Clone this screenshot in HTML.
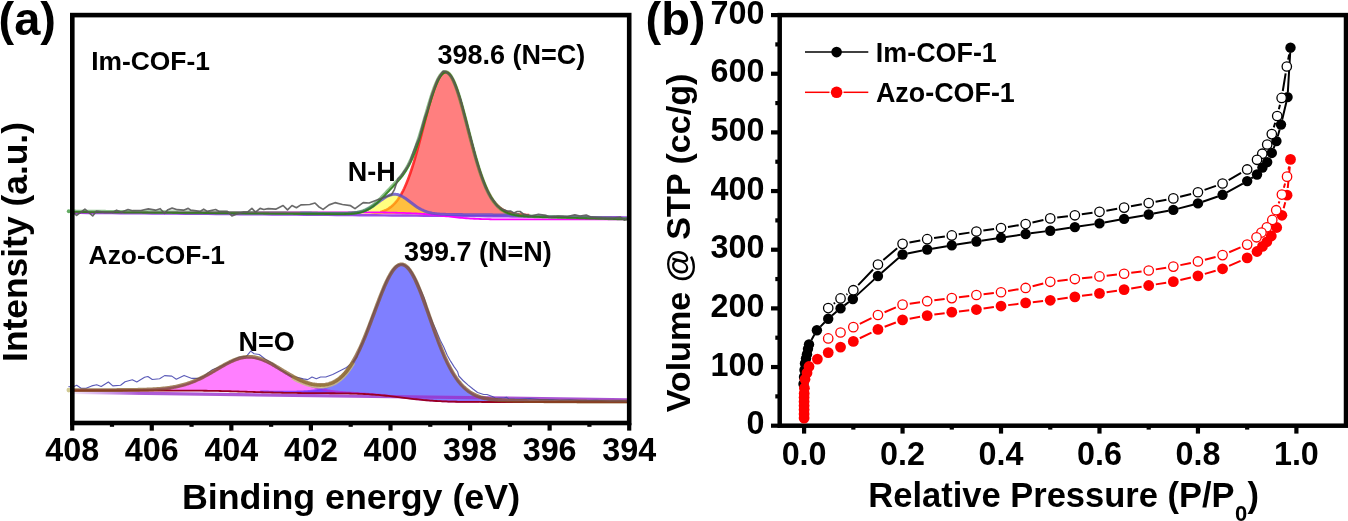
<!DOCTYPE html><html><head><meta charset="utf-8"><style>html,body{margin:0;padding:0;background:#fff;overflow:hidden}svg{display:block;will-change:transform}</style></head><body>
<svg width="1348" height="521" viewBox="0 0 1348 521">
<rect width="1348" height="521" fill="#fff"/>
<polygon points="350.2,213.68 351.2,213.69 352.2,213.69 353.2,213.69 354.2,213.7 355.2,213.7 356.2,213.7 357.2,213.7 358.2,213.69 359.2,213.69 360.2,213.68 361.2,213.67 362.2,213.66 363.2,213.65 364.2,213.63 365.2,213.6 366.2,213.57 367.2,213.54 368.2,213.49 369.2,213.44 370.2,213.38 371.2,213.32 372.2,213.24 373.2,213.14 374.2,213.04 375.2,212.91 376.2,212.77 377.2,212.61 378.2,212.43 379.2,212.22 380.2,211.99 381.2,211.72 382.2,211.42 383.2,211.09 384.2,210.72 385.2,210.3 386.2,209.84 387.2,209.33 388.2,208.76 389.2,208.13 390.2,207.44 391.2,206.68 392.2,205.85 393.2,204.94 394.2,203.95 395.2,202.87 396.2,201.7 397.2,200.43 398.2,199.07 399.2,197.59 400.2,196.01 401.2,194.31 402.2,192.49 403.2,190.56 404.2,188.5 405.2,186.31 406.2,184 407.2,181.56 408.2,179 409.2,176.3 410.2,173.48 411.2,170.54 412.2,167.48 413.2,164.3 414.2,161.01 415.2,157.62 416.2,154.13 417.2,150.56 418.2,146.9 419.2,143.18 420.2,139.4 421.2,135.58 422.2,131.73 423.2,127.87 424.2,124 425.2,120.15 426.2,116.34 427.2,112.57 428.2,108.87 429.2,105.25 430.2,101.74 431.2,98.35 432.2,95.09 433.2,91.99 434.2,89.06 435.2,86.32 436.2,83.77 437.2,81.45 438.2,79.36 439.2,77.51 440.2,75.91 441.2,74.57 442.2,73.51 443.2,72.72 444.2,72.21 445.2,71.99 446.2,72.06 447.2,72.41 448.2,73.05 449.2,73.96 450.2,75.15 451.2,76.61 452.2,78.33 453.2,80.29 454.2,82.5 455.2,84.93 456.2,87.57 457.2,90.4 458.2,93.42 459.2,96.6 460.2,99.93 461.2,103.39 462.2,106.97 463.2,110.63 464.2,114.38 465.2,118.18 466.2,122.03 467.2,125.91 468.2,129.79 469.2,133.67 470.2,137.52 471.2,141.34 472.2,145.12 473.2,148.83 474.2,152.47 475.2,156.03 476.2,159.49 477.2,162.86 478.2,166.12 479.2,169.27 480.2,172.3 481.2,175.21 482.2,178 483.2,180.66 484.2,183.19 485.2,185.6 486.2,187.87 487.2,190.02 488.2,192.05 489.2,193.95 490.2,195.74 491.2,197.41 492.2,198.96 493.2,200.41 494.2,201.76 495.2,203 496.2,204.15 497.2,205.21 498.2,206.19 499.2,207.08 500.2,207.9 501.2,208.65 502.2,209.33 503.2,209.95 504.2,210.51 505.2,211.02 506.2,211.48 507.2,211.89 508.2,212.26 509.2,212.6 510.2,212.9 511.2,213.17 512.2,213.41 513.2,213.62 514.2,213.81 515.2,213.98 516.2,214.13 517.2,214.26 518.2,214.38 519.2,214.49 520.2,214.58 521.2,214.66 522.2,214.73 523.2,214.8 524.2,214.85 525.2,214.9 526.2,214.95 527.2,214.98 528.2,215.02 529.2,215.05 530.2,215.08 531.2,215.1 532.2,215.12 533.2,215.14 534.2,215.16 535.2,215.18 536.2,215.2 537.2,215.21 538.2,215.22 539.2,215.24 540.2,215.25 541.2,215.26 542.2,215.27 543.2,215.28 544.2,215.29 544.2,215.3 543.2,215.29 542.2,215.28 541.2,215.27 540.2,215.26 539.2,215.26 538.2,215.25 537.2,215.24 536.2,215.23 535.2,215.22 534.2,215.22 533.2,215.21 532.2,215.2 531.2,215.19 530.2,215.18 529.2,215.17 528.2,215.17 527.2,215.16 526.2,215.15 525.2,215.14 524.2,215.13 523.2,215.12 522.2,215.12 521.2,215.11 520.2,215.1 519.2,215.09 518.2,215.08 517.2,215.08 516.2,215.07 515.2,215.06 514.2,215.05 513.2,215.04 512.2,215.03 511.2,215.03 510.2,215.02 509.2,215.01 508.2,215 507.2,214.99 506.2,214.98 505.2,214.98 504.2,214.97 503.2,214.96 502.2,214.95 501.2,214.94 500.2,214.93 499.2,214.93 498.2,214.92 497.2,214.91 496.2,214.9 495.2,214.89 494.2,214.89 493.2,214.88 492.2,214.87 491.2,214.86 490.2,214.85 489.2,214.84 488.2,214.84 487.2,214.83 486.2,214.82 485.2,214.81 484.2,214.8 483.2,214.79 482.2,214.79 481.2,214.78 480.2,214.77 479.2,214.76 478.2,214.75 477.2,214.74 476.2,214.74 475.2,214.73 474.2,214.72 473.2,214.71 472.2,214.7 471.2,214.7 470.2,214.69 469.2,214.68 468.2,214.67 467.2,214.66 466.2,214.65 465.2,214.65 464.2,214.64 463.2,214.63 462.2,214.62 461.2,214.61 460.2,214.6 459.2,214.6 458.2,214.59 457.2,214.58 456.2,214.57 455.2,214.56 454.2,214.55 453.2,214.55 452.2,214.54 451.2,214.53 450.2,214.52 449.2,214.51 448.2,214.51 447.2,214.5 446.2,214.49 445.2,214.48 444.2,214.47 443.2,214.46 442.2,214.46 441.2,214.45 440.2,214.44 439.2,214.43 438.2,214.42 437.2,214.41 436.2,214.41 435.2,214.4 434.2,214.39 433.2,214.38 432.2,214.37 431.2,214.36 430.2,214.36 429.2,214.35 428.2,214.34 427.2,214.33 426.2,214.32 425.2,214.32 424.2,214.31 423.2,214.3 422.2,214.29 421.2,214.28 420.2,214.27 419.2,214.27 418.2,214.26 417.2,214.25 416.2,214.24 415.2,214.23 414.2,214.22 413.2,214.22 412.2,214.21 411.2,214.2 410.2,214.19 409.2,214.18 408.2,214.17 407.2,214.17 406.2,214.16 405.2,214.15 404.2,214.14 403.2,214.13 402.2,214.13 401.2,214.12 400.2,214.11 399.2,214.1 398.2,214.09 397.2,214.08 396.2,214.08 395.2,214.07 394.2,214.06 393.2,214.05 392.2,214.04 391.2,214.03 390.2,214.03 389.2,214.02 388.2,214.01 387.2,214 386.2,213.99 385.2,213.98 384.2,213.98 383.2,213.97 382.2,213.96 381.2,213.95 380.2,213.94 379.2,213.94 378.2,213.93 377.2,213.92 376.2,213.91 375.2,213.9 374.2,213.89 373.2,213.89 372.2,213.88 371.2,213.87 370.2,213.86 369.2,213.85 368.2,213.84 367.2,213.84 366.2,213.83 365.2,213.82 364.2,213.81 363.2,213.8 362.2,213.79 361.2,213.79 360.2,213.78 359.2,213.77 358.2,213.76 357.2,213.75 356.2,213.75 355.2,213.74 354.2,213.73 353.2,213.72 352.2,213.71 351.2,213.7 350.2,213.7" fill="#ff0000" fill-opacity="0.5"/>
<polyline points="380.2,211.99 381.2,211.72 382.2,211.42 383.2,211.09 384.2,210.72 385.2,210.3 386.2,209.84 387.2,209.33 388.2,208.76 389.2,208.13 390.2,207.44 391.2,206.68 392.2,205.85 393.2,204.94 394.2,203.95 395.2,202.87 396.2,201.7 397.2,200.43 398.2,199.07 399.2,197.59 400.2,196.01 401.2,194.31 402.2,192.49 403.2,190.56 404.2,188.5 405.2,186.31 406.2,184 407.2,181.56 408.2,179 409.2,176.3 410.2,173.48 411.2,170.54 412.2,167.48 413.2,164.3 414.2,161.01 415.2,157.62 416.2,154.13 417.2,150.56 418.2,146.9 419.2,143.18 420.2,139.4 421.2,135.58 422.2,131.73 423.2,127.87 424.2,124 425.2,120.15 426.2,116.34 427.2,112.57 428.2,108.87 429.2,105.25 430.2,101.74 431.2,98.35 432.2,95.09 433.2,91.99 434.2,89.06 435.2,86.32 436.2,83.77 437.2,81.45 438.2,79.36 439.2,77.51 440.2,75.91 441.2,74.57 442.2,73.51 443.2,72.72 444.2,72.21 445.2,71.99 446.2,72.06 447.2,72.41 448.2,73.05 449.2,73.96 450.2,75.15 451.2,76.61 452.2,78.33 453.2,80.29 454.2,82.5 455.2,84.93 456.2,87.57 457.2,90.4 458.2,93.42 459.2,96.6 460.2,99.93 461.2,103.39 462.2,106.97 463.2,110.63 464.2,114.38 465.2,118.18 466.2,122.03 467.2,125.91 468.2,129.79 469.2,133.67 470.2,137.52 471.2,141.34 472.2,145.12 473.2,148.83 474.2,152.47 475.2,156.03 476.2,159.49 477.2,162.86 478.2,166.12 479.2,169.27 480.2,172.3 481.2,175.21 482.2,178 483.2,180.66 484.2,183.19 485.2,185.6 486.2,187.87 487.2,190.02 488.2,192.05 489.2,193.95 490.2,195.74 491.2,197.41 492.2,198.96 493.2,200.41 494.2,201.76 495.2,203 496.2,204.15 497.2,205.21 498.2,206.19 499.2,207.08 500.2,207.9 501.2,208.65 502.2,209.33 503.2,209.95 504.2,210.51 505.2,211.02 506.2,211.48 507.2,211.89 508.2,212.26 509.2,212.6 510.2,212.9 511.2,213.17 512.2,213.41 513.2,213.62 514.2,213.81 515.2,213.98 516.2,214.13 517.2,214.26 518.2,214.38 519.2,214.49 520.2,214.58 521.2,214.66 522.2,214.73 523.2,214.8 524.2,214.85 525.2,214.9 526.2,214.95 527.2,214.98 528.2,215.02 529.2,215.05" fill="none" stroke="#ff1a1a" stroke-width="2.6" stroke-opacity="0.85" stroke-linejoin="round"/>
<polygon points="320.2,213.45 321.2,213.46 322.2,213.46 323.2,213.47 324.2,213.48 325.2,213.49 326.2,213.5 327.2,213.5 328.2,213.51 329.2,213.52 330.2,213.53 331.2,213.53 332.2,213.54 333.2,213.55 334.2,213.55 335.2,213.56 336.2,213.56 337.2,213.56 338.2,213.56 339.2,213.56 340.2,213.56 341.2,213.56 342.2,213.55 343.2,213.54 344.2,213.52 345.2,213.51 346.2,213.48 347.2,213.45 348.2,213.41 349.2,213.37 350.2,213.31 351.2,213.25 352.2,213.17 353.2,213.08 354.2,212.98 355.2,212.85 356.2,212.71 357.2,212.55 358.2,212.37 359.2,212.16 360.2,211.93 361.2,211.67 362.2,211.38 363.2,211.06 364.2,210.7 365.2,210.31 366.2,209.89 367.2,209.43 368.2,208.94 369.2,208.41 370.2,207.85 371.2,207.26 372.2,206.63 373.2,205.97 374.2,205.29 375.2,204.59 376.2,203.86 377.2,203.12 378.2,202.37 379.2,201.62 380.2,200.87 381.2,200.13 382.2,199.41 383.2,198.71 384.2,198.03 385.2,197.4 386.2,196.8 387.2,196.26 388.2,195.77 389.2,195.34 390.2,194.98 391.2,194.69 392.2,194.47 393.2,194.33 394.2,194.27 395.2,194.28 396.2,194.38 397.2,194.55 398.2,194.8 399.2,195.12 400.2,195.51 401.2,195.97 402.2,196.49 403.2,197.06 404.2,197.68 405.2,198.34 406.2,199.04 407.2,199.76 408.2,200.5 409.2,201.26 410.2,202.03 411.2,202.8 412.2,203.56 413.2,204.31 414.2,205.05 415.2,205.77 416.2,206.46 417.2,207.13 418.2,207.77 419.2,208.37 420.2,208.95 421.2,209.48 422.2,209.98 423.2,210.45 424.2,210.88 425.2,211.28 426.2,211.64 427.2,211.98 428.2,212.28 429.2,212.55 430.2,212.79 431.2,213.01 432.2,213.21 433.2,213.38 434.2,213.53 435.2,213.67 436.2,213.79 437.2,213.89 438.2,213.98 439.2,214.06 440.2,214.13 441.2,214.19 442.2,214.24 443.2,214.29 444.2,214.33 445.2,214.36 446.2,214.39 447.2,214.42 448.2,214.44 449.2,214.46 450.2,214.48 451.2,214.5 452.2,214.51 453.2,214.53 454.2,214.54 455.2,214.55 456.2,214.56 457.2,214.57 458.2,214.58 459.2,214.59 460.2,214.6 461.2,214.61 462.2,214.62 463.2,214.63 464.2,214.64 465.2,214.64 466.2,214.65 467.2,214.66 468.2,214.67 469.2,214.68 470.2,214.69 471.2,214.69 472.2,214.7 473.2,214.71 474.2,214.72 475.2,214.73 476.2,214.74 477.2,214.74 478.2,214.75 479.2,214.76 479.2,214.76 478.2,214.75 477.2,214.74 476.2,214.74 475.2,214.73 474.2,214.72 473.2,214.71 472.2,214.7 471.2,214.7 470.2,214.69 469.2,214.68 468.2,214.67 467.2,214.66 466.2,214.65 465.2,214.65 464.2,214.64 463.2,214.63 462.2,214.62 461.2,214.61 460.2,214.6 459.2,214.6 458.2,214.59 457.2,214.58 456.2,214.57 455.2,214.56 454.2,214.55 453.2,214.55 452.2,214.54 451.2,214.53 450.2,214.52 449.2,214.51 448.2,214.51 447.2,214.5 446.2,214.49 445.2,214.48 444.2,214.47 443.2,214.46 442.2,214.46 441.2,214.45 440.2,214.44 439.2,214.43 438.2,214.42 437.2,214.41 436.2,214.41 435.2,214.4 434.2,214.39 433.2,214.38 432.2,214.37 431.2,214.36 430.2,214.36 429.2,214.35 428.2,214.34 427.2,214.33 426.2,214.32 425.2,214.32 424.2,214.31 423.2,214.3 422.2,214.29 421.2,214.28 420.2,214.27 419.2,214.27 418.2,214.26 417.2,214.25 416.2,214.24 415.2,214.23 414.2,214.22 413.2,214.22 412.2,214.21 411.2,214.2 410.2,214.19 409.2,214.18 408.2,214.17 407.2,214.17 406.2,214.16 405.2,214.15 404.2,214.14 403.2,214.13 402.2,214.13 401.2,214.12 400.2,214.11 399.2,214.1 398.2,214.09 397.2,214.08 396.2,214.08 395.2,214.07 394.2,214.06 393.2,214.05 392.2,214.04 391.2,214.03 390.2,214.03 389.2,214.02 388.2,214.01 387.2,214 386.2,213.99 385.2,213.98 384.2,213.98 383.2,213.97 382.2,213.96 381.2,213.95 380.2,213.94 379.2,213.94 378.2,213.93 377.2,213.92 376.2,213.91 375.2,213.9 374.2,213.89 373.2,213.89 372.2,213.88 371.2,213.87 370.2,213.86 369.2,213.85 368.2,213.84 367.2,213.84 366.2,213.83 365.2,213.82 364.2,213.81 363.2,213.8 362.2,213.79 361.2,213.79 360.2,213.78 359.2,213.77 358.2,213.76 357.2,213.75 356.2,213.75 355.2,213.74 354.2,213.73 353.2,213.72 352.2,213.71 351.2,213.7 350.2,213.7 349.2,213.69 348.2,213.68 347.2,213.67 346.2,213.66 345.2,213.65 344.2,213.65 343.2,213.64 342.2,213.63 341.2,213.62 340.2,213.61 339.2,213.61 338.2,213.6 337.2,213.59 336.2,213.58 335.2,213.57 334.2,213.56 333.2,213.56 332.2,213.55 331.2,213.54 330.2,213.53 329.2,213.52 328.2,213.51 327.2,213.51 326.2,213.5 325.2,213.49 324.2,213.48 323.2,213.47 322.2,213.46 321.2,213.46 320.2,213.45" fill="#ffff00" fill-opacity="0.5"/>
<polyline points="72.2,212.8 80.2,212.87 88.2,212.93 96.2,213 104.2,213.06 112.2,213.13 120.2,213.2 128.2,213.26 136.2,213.33 144.2,213.39 152.2,213.46 160.2,213.53 168.2,213.59 176.2,213.66 184.2,213.72 192.2,213.79 200.2,213.86 208.2,213.92 216.2,213.99 224.2,214.06 232.2,214.12 240.2,214.19 248.2,214.25 256.2,214.32 264.2,214.39 272.2,214.45 280.2,214.52 288.2,214.58 296.2,214.65 304.2,214.72 312.2,214.78 320.2,214.85 328.2,214.91 336.2,214.98 344.2,215.05 352.2,215.11 360.2,215.18 368.2,215.24 376.2,215.31 384.2,215.38 392.2,215.44 400.2,215.51 408.2,215.57 416.2,215.64 424.2,215.71 432.2,215.77 440.2,215.84 448.2,215.91 456.2,215.97 464.2,216.04 472.2,216.1 480.2,216.17 488.2,216.24 496.2,216.3 504.2,216.37 512.2,216.43 520.2,216.5 528.2,216.57 536.2,216.63 544.2,216.7 552.2,216.76 560.2,216.83 568.2,216.9 576.2,216.96 584.2,217.03 592.2,217.09 600.2,217.16 608.2,217.23 616.2,217.29 624.2,217.36 629.2,217.4" fill="none" stroke="#8a2be2" stroke-width="2.4" stroke-opacity="0.85"/>
<polyline points="72.2,212.3 74.2,212.3 76.2,212.3 78.2,212.3 80.2,212.3 82.2,212.3 84.2,212.3 86.2,212.3 88.2,212.3 90.2,212.3 92.2,212.3 94.2,212.3 96.2,212.3 98.2,212.3 100.2,212.3 102.2,212.3 104.2,212.3 106.2,212.3 108.2,212.3 110.2,212.3 112.2,212.3 114.2,212.3 116.2,212.3 118.2,212.3 120.2,212.3 122.2,212.3 124.2,212.3 126.2,212.3 128.2,212.3 130.2,212.3 132.2,212.3 134.2,212.3 136.2,212.3 138.2,212.3 140.2,212.3 142.2,212.3 144.2,212.3 146.2,212.3 148.2,212.3 150.2,212.3 152.2,212.3 154.2,212.3 156.2,212.3 158.2,212.3 160.2,212.3 162.2,212.3 164.2,212.3 166.2,212.3 168.2,212.3 170.2,212.3 172.2,212.3 174.2,212.3 176.2,212.3 178.2,212.3 180.2,212.3 182.2,212.3 184.2,212.3 186.2,212.3 188.2,212.3 190.2,212.3 192.2,212.3 194.2,212.3 196.2,212.3 198.2,212.3 200.2,212.3 202.2,212.3 204.2,212.3 206.2,212.3 208.2,212.3 210.2,212.3 212.2,212.3 214.2,212.3 216.2,212.3 218.2,212.3 220.2,212.3 222.2,212.3 224.2,212.3 226.2,212.3 228.2,212.3 230.2,212.3 232.2,212.3 234.2,212.3 236.2,212.3 238.2,212.3 240.2,212.3 242.2,212.3 244.2,212.3 246.2,212.3 248.2,212.3 250.2,212.3 252.2,212.3 254.2,212.3 256.2,212.3 258.2,212.3 260.2,212.3 262.2,212.3 264.2,212.3 266.2,212.3 268.2,212.3 270.2,212.3 272.2,212.3 274.2,212.3 276.2,212.3 278.2,212.3 280.2,212.3 282.2,212.3 284.2,212.3 286.2,212.3 288.2,212.3 290.2,212.3 292.2,212.3 294.2,212.3 296.2,212.3 298.2,212.3 300.2,212.3 302.2,212.3 304.2,212.3 306.2,212.3 308.2,212.3 310.2,212.3 312.2,212.3 314.2,212.3 316.2,212.3 318.2,212.3 320.2,212.3 322.2,212.3 324.2,212.3 326.2,212.3 328.2,212.3 330.2,212.3 332.2,212.3 334.2,212.3 336.2,212.3 338.2,212.3 340.2,212.3 342.2,212.3 344.2,212.3 346.2,212.3 348.2,212.3 350.2,212.3 352.2,212.3 354.2,212.3 356.2,212.3 358.2,212.31 360.2,212.31 362.2,212.31 364.2,212.32 366.2,212.32 368.2,212.33 370.2,212.34 372.2,212.35 374.2,212.37 376.2,212.38 378.2,212.4 380.2,212.43 382.2,212.45 384.2,212.48 386.2,212.51 388.2,212.55 390.2,212.59 392.2,212.63 394.2,212.68 396.2,212.73 398.2,212.79 400.2,212.84 402.2,212.9 404.2,212.97 406.2,213.04 408.2,213.12 410.2,213.2 412.2,213.29 414.2,213.39 416.2,213.49 418.2,213.61 420.2,213.73 422.2,213.87 424.2,214.01 426.2,214.17 428.2,214.34 430.2,214.52 432.2,214.71 434.2,214.91 436.2,215.12 438.2,215.34 440.2,215.56 442.2,215.79 444.2,216.02 446.2,216.25 448.2,216.48 450.2,216.71 452.2,216.93 454.2,217.15 456.2,217.36 458.2,217.56 460.2,217.75 462.2,217.93 464.2,218.1 466.2,218.26 468.2,218.4 470.2,218.53 472.2,218.65 474.2,218.76 476.2,218.86 478.2,218.94 480.2,219.01 482.2,219.08 484.2,219.13 486.2,219.18 488.2,219.22 490.2,219.25 492.2,219.28 494.2,219.31 496.2,219.33 498.2,219.34 500.2,219.35 502.2,219.36 504.2,219.37 506.2,219.38 508.2,219.38 510.2,219.39 512.2,219.39 514.2,219.39 516.2,219.4 518.2,219.4 520.2,219.4 522.2,219.4 524.2,219.4 526.2,219.4 528.2,219.4 530.2,219.4 532.2,219.4 534.2,219.4 536.2,219.4 538.2,219.4 540.2,219.4 542.2,219.4 544.2,219.4 546.2,219.4 548.2,219.4 550.2,219.4 552.2,219.4 554.2,219.4 556.2,219.4 558.2,219.4 560.2,219.4 562.2,219.4 564.2,219.4 566.2,219.4 568.2,219.4 570.2,219.4 572.2,219.4 574.2,219.4 576.2,219.4 578.2,219.4 580.2,219.4 582.2,219.4 584.2,219.4 586.2,219.4 588.2,219.4 590.2,219.4 592.2,219.4 594.2,219.4 596.2,219.4 598.2,219.4 600.2,219.4 602.2,219.4 604.2,219.4 606.2,219.4 608.2,219.4 610.2,219.4 612.2,219.4 614.2,219.4 616.2,219.4 618.2,219.4 620.2,219.4 622.2,219.4 624.2,219.4 626.2,219.4 628.2,219.4 629.2,219.4" fill="none" stroke="#ff00ff" stroke-width="1.8"/>
<polyline points="300.2,213.28 301.2,213.29 302.2,213.3 303.2,213.31 304.2,213.32 305.2,213.32 306.2,213.33 307.2,213.34 308.2,213.35 309.2,213.36 310.2,213.37 311.2,213.37 312.2,213.38 313.2,213.39 314.2,213.4 315.2,213.41 316.2,213.41 317.2,213.42 318.2,213.43 319.2,213.44 320.2,213.45 321.2,213.46 322.2,213.46 323.2,213.47 324.2,213.48 325.2,213.49 326.2,213.5 327.2,213.5 328.2,213.51 329.2,213.52 330.2,213.53 331.2,213.53 332.2,213.54 333.2,213.55 334.2,213.55 335.2,213.56 336.2,213.56 337.2,213.56 338.2,213.56 339.2,213.56 340.2,213.56 341.2,213.56 342.2,213.55 343.2,213.54 344.2,213.52 345.2,213.51 346.2,213.48 347.2,213.45 348.2,213.41 349.2,213.37 350.2,213.31 351.2,213.25 352.2,213.17 353.2,213.08 354.2,212.98 355.2,212.85 356.2,212.71 357.2,212.55 358.2,212.37 359.2,212.16 360.2,211.93 361.2,211.67 362.2,211.38 363.2,211.06 364.2,210.7 365.2,210.31 366.2,209.89 367.2,209.43 368.2,208.94 369.2,208.41 370.2,207.85 371.2,207.26 372.2,206.63 373.2,205.97 374.2,205.29 375.2,204.59 376.2,203.86 377.2,203.12 378.2,202.37 379.2,201.62 380.2,200.87 381.2,200.13 382.2,199.41 383.2,198.71 384.2,198.03 385.2,197.4 386.2,196.8 387.2,196.26 388.2,195.77 389.2,195.34 390.2,194.98 391.2,194.69 392.2,194.47 393.2,194.33 394.2,194.27 395.2,194.28 396.2,194.38 397.2,194.55 398.2,194.8 399.2,195.12 400.2,195.51 401.2,195.97 402.2,196.49 403.2,197.06 404.2,197.68 405.2,198.34 406.2,199.04 407.2,199.76 408.2,200.5 409.2,201.26 410.2,202.03 411.2,202.8 412.2,203.56 413.2,204.31 414.2,205.05 415.2,205.77 416.2,206.46 417.2,207.13 418.2,207.77 419.2,208.37 420.2,208.95 421.2,209.48 422.2,209.98 423.2,210.45 424.2,210.88 425.2,211.28 426.2,211.64 427.2,211.98 428.2,212.28 429.2,212.55 430.2,212.79 431.2,213.01 432.2,213.21 433.2,213.38 434.2,213.53 435.2,213.67 436.2,213.79 437.2,213.89 438.2,213.98 439.2,214.06 440.2,214.13 441.2,214.19 442.2,214.24 443.2,214.29 444.2,214.33 445.2,214.36 446.2,214.39 447.2,214.42 448.2,214.44 449.2,214.46 450.2,214.48 451.2,214.5 452.2,214.51 453.2,214.53 454.2,214.54 455.2,214.55 456.2,214.56 457.2,214.57 458.2,214.58 459.2,214.59 460.2,214.6 461.2,214.61 462.2,214.62 463.2,214.63 464.2,214.64 465.2,214.64 466.2,214.65 467.2,214.66 468.2,214.67 469.2,214.68 470.2,214.69 471.2,214.69 472.2,214.7 473.2,214.71 474.2,214.72 475.2,214.73 476.2,214.74 477.2,214.74 478.2,214.75 479.2,214.76 480.2,214.77 481.2,214.78 482.2,214.79 483.2,214.79 484.2,214.8 485.2,214.81 486.2,214.82 487.2,214.83 488.2,214.84 489.2,214.84 490.2,214.85 491.2,214.86 492.2,214.87 493.2,214.88 494.2,214.89 495.2,214.89 496.2,214.9 497.2,214.91 498.2,214.92 499.2,214.93 500.2,214.93 501.2,214.94 502.2,214.95 503.2,214.96 504.2,214.97 505.2,214.98 506.2,214.98 507.2,214.99 508.2,215 509.2,215.01 510.2,215.02 511.2,215.03 512.2,215.03 513.2,215.04 514.2,215.05 515.2,215.06 516.2,215.07 517.2,215.08 518.2,215.08 519.2,215.09" fill="none" stroke="#5a4ad0" stroke-width="3" stroke-opacity="0.8" stroke-linejoin="round"/>
<polyline points="72.2,211.4 73.2,211.41 74.2,211.42 75.2,211.42 76.2,211.43 77.2,211.44 78.2,211.45 79.2,211.46 80.2,211.47 81.2,211.47 82.2,211.48 83.2,211.49 84.2,211.5 85.2,211.51 86.2,211.52 87.2,211.52 88.2,211.53 89.2,211.54 90.2,211.55 91.2,211.56 92.2,211.57 93.2,211.57 94.2,211.58 95.2,211.59 96.2,211.6 97.2,211.61 98.2,211.61 99.2,211.62 100.2,211.63 101.2,211.64 102.2,211.65 103.2,211.66 104.2,211.66 105.2,211.67 106.2,211.68 107.2,211.69 108.2,211.7 109.2,211.71 110.2,211.71 111.2,211.72 112.2,211.73 113.2,211.74 114.2,211.75 115.2,211.76 116.2,211.76 117.2,211.77 118.2,211.78 119.2,211.79 120.2,211.8 121.2,211.8 122.2,211.81 123.2,211.82 124.2,211.83 125.2,211.84 126.2,211.85 127.2,211.85 128.2,211.86 129.2,211.87 130.2,211.88 131.2,211.89 132.2,211.9 133.2,211.9 134.2,211.91 135.2,211.92 136.2,211.93 137.2,211.94 138.2,211.95 139.2,211.95 140.2,211.96 141.2,211.97 142.2,211.98 143.2,211.99 144.2,211.99 145.2,212 146.2,212.01 147.2,212.02 148.2,212.03 149.2,212.04 150.2,212.04 151.2,212.05 152.2,212.06 153.2,212.07 154.2,212.08 155.2,212.09 156.2,212.09 157.2,212.1 158.2,212.11 159.2,212.12 160.2,212.13 161.2,212.14 162.2,212.14 163.2,212.15 164.2,212.16 165.2,212.17 166.2,212.18 167.2,212.18 168.2,212.19 169.2,212.2 170.2,212.21 171.2,212.22 172.2,212.23 173.2,212.23 174.2,212.24 175.2,212.25 176.2,212.26 177.2,212.27 178.2,212.28 179.2,212.28 180.2,212.29 181.2,212.3 182.2,212.31 183.2,212.32 184.2,212.32 185.2,212.33 186.2,212.34 187.2,212.35 188.2,212.36 189.2,212.37 190.2,212.37 191.2,212.38 192.2,212.39 193.2,212.4 194.2,212.41 195.2,212.42 196.2,212.42 197.2,212.43 198.2,212.44 199.2,212.45 200.2,212.46 201.2,212.47 202.2,212.47 203.2,212.48 204.2,212.49 205.2,212.5 206.2,212.51 207.2,212.51 208.2,212.52 209.2,212.53 210.2,212.54 211.2,212.55 212.2,212.56 213.2,212.56 214.2,212.57 215.2,212.58 216.2,212.59 217.2,212.6 218.2,212.61 219.2,212.61 220.2,212.62 221.2,212.63 222.2,212.64 223.2,212.65 224.2,212.66 225.2,212.66 226.2,212.67 227.2,212.68 228.2,212.69 229.2,212.7 230.2,212.7 231.2,212.71 232.2,212.72 233.2,212.73 234.2,212.74 235.2,212.75 236.2,212.75 237.2,212.76 238.2,212.77 239.2,212.78 240.2,212.79 241.2,212.8 242.2,212.8 243.2,212.81 244.2,212.82 245.2,212.83 246.2,212.84 247.2,212.85 248.2,212.85 249.2,212.86 250.2,212.87 251.2,212.88 252.2,212.89 253.2,212.89 254.2,212.9 255.2,212.91 256.2,212.92 257.2,212.93 258.2,212.94 259.2,212.94 260.2,212.95 261.2,212.96 262.2,212.97 263.2,212.98 264.2,212.99 265.2,212.99 266.2,213 267.2,213.01 268.2,213.02 269.2,213.03 270.2,213.04 271.2,213.04 272.2,213.05 273.2,213.06 274.2,213.07 275.2,213.08 276.2,213.08 277.2,213.09 278.2,213.1 279.2,213.11 280.2,213.12 281.2,213.13 282.2,213.13 283.2,213.14 284.2,213.15 285.2,213.16 286.2,213.17 287.2,213.18 288.2,213.18 289.2,213.19 290.2,213.2 291.2,213.21 292.2,213.22 293.2,213.23 294.2,213.23 295.2,213.24 296.2,213.25 297.2,213.26 298.2,213.27 299.2,213.27 300.2,213.28 301.2,213.29 302.2,213.3 303.2,213.31 304.2,213.32 305.2,213.32 306.2,213.33 307.2,213.34 308.2,213.35 309.2,213.36 310.2,213.37 311.2,213.37 312.2,213.38 313.2,213.39 314.2,213.4 315.2,213.41 316.2,213.41 317.2,213.42 318.2,213.43 319.2,213.44 320.2,213.45 321.2,213.46 322.2,213.46 323.2,213.47 324.2,213.48 325.2,213.49 326.2,213.5 327.2,213.5 328.2,213.51 329.2,213.52 330.2,213.53 331.2,213.53 332.2,213.54 333.2,213.54 334.2,213.55 335.2,213.55 336.2,213.56 337.2,213.56 338.2,213.56 339.2,213.56 340.2,213.56 341.2,213.55 342.2,213.55 343.2,213.53 344.2,213.52 345.2,213.5 346.2,213.47 347.2,213.44 348.2,213.4 349.2,213.36 350.2,213.3 351.2,213.23 352.2,213.15 353.2,213.05 354.2,212.94 355.2,212.81 356.2,212.67 357.2,212.5 358.2,212.3 359.2,212.08 360.2,211.83 361.2,211.55 362.2,211.24 363.2,210.9 364.2,210.52 365.2,210.1 366.2,209.64 367.2,209.13 368.2,208.59 369.2,208.01 370.2,207.38 371.2,206.7 372.2,205.99 373.2,205.23 374.2,204.43 375.2,203.59 376.2,202.72 377.2,201.81 378.2,200.87 379.2,199.91 380.2,198.91 381.2,197.9 382.2,196.87 383.2,195.83 384.2,194.77 385.2,193.71 386.2,192.65 387.2,191.58 388.2,190.52 389.2,189.46 390.2,188.4 391.2,187.34 392.2,186.28 393.2,185.22 394.2,184.16 395.2,183.09 396.2,182 397.2,180.9 398.2,179.77 399.2,178.61 400.2,177.41 401.2,176.16 402.2,174.86 403.2,173.48 404.2,172.03 405.2,170.5 406.2,168.88 407.2,167.15 408.2,165.32 409.2,163.38 410.2,161.32 411.2,159.14 412.2,156.83 413.2,154.4 414.2,151.84 415.2,149.16 416.2,146.35 417.2,143.44 418.2,140.41 419.2,137.29 420.2,134.07 421.2,130.78 422.2,127.43 423.2,124.02 424.2,120.58 425.2,117.12 426.2,113.66 427.2,110.21 428.2,106.81 429.2,103.45 430.2,100.18 431.2,96.99 432.2,93.92 433.2,90.99 434.2,88.2 435.2,85.59 436.2,83.16 437.2,80.93 438.2,78.92 439.2,77.14 440.2,75.6 441.2,74.32 442.2,73.3 443.2,72.55 444.2,72.07 445.2,71.88 446.2,71.96 447.2,72.33 448.2,72.98 449.2,73.91 450.2,75.11 451.2,76.58 452.2,78.3 453.2,80.27 454.2,82.48 455.2,84.91 456.2,87.56 457.2,90.4 458.2,93.41 459.2,96.6 460.2,99.93 461.2,103.39 462.2,106.96 463.2,110.63 464.2,114.38 465.2,118.18 466.2,122.03 467.2,125.91 468.2,129.79 469.2,133.67 470.2,137.53 471.2,141.37 472.2,145.16 473.2,148.89 474.2,152.55 475.2,156.12 476.2,159.61 477.2,162.99 478.2,166.27 479.2,169.44 480.2,172.49 481.2,175.42 482.2,178.22 483.2,180.9 484.2,183.45 485.2,185.87 486.2,188.17 487.2,190.34 488.2,192.38 489.2,194.3 490.2,196.11 491.2,197.79 492.2,199.37 493.2,200.84 494.2,202.2 495.2,203.46 496.2,204.63 497.2,205.71 498.2,206.7 499.2,207.61 500.2,208.45 501.2,209.22 502.2,209.91 503.2,210.55 504.2,211.13 505.2,211.66 506.2,212.14 507.2,212.57 508.2,212.96 509.2,213.31 510.2,213.63 511.2,213.92 512.2,214.18 513.2,214.41 514.2,214.62 515.2,214.8 516.2,214.97 517.2,215.12 518.2,215.26 519.2,215.38 520.2,215.49 521.2,215.59 522.2,215.68 523.2,215.76 524.2,215.84 525.2,215.91 526.2,215.97 527.2,216.03 528.2,216.08 529.2,216.13 530.2,216.17 531.2,216.22 532.2,216.26 533.2,216.3 534.2,216.33 535.2,216.37 536.2,216.4 537.2,216.43 538.2,216.47 539.2,216.5 540.2,216.53 541.2,216.56 542.2,216.58 543.2,216.61 544.2,216.64 545.2,216.67 546.2,216.7 547.2,216.72 548.2,216.75 549.2,216.78 550.2,216.81 551.2,216.83 552.2,216.86 553.2,216.89 554.2,216.91 555.2,216.94 556.2,216.97 557.2,216.99 558.2,217.02 559.2,217.05 560.2,217.07 561.2,217.1 562.2,217.13 563.2,217.15 564.2,217.18 565.2,217.21 566.2,217.23 567.2,217.26 568.2,217.29 569.2,217.31 570.2,217.34 571.2,217.36 572.2,217.39 573.2,217.42 574.2,217.44 575.2,217.47 576.2,217.5 577.2,217.52 578.2,217.55 579.2,217.58 580.2,217.6 581.2,217.63 582.2,217.66 583.2,217.68 584.2,217.71 585.2,217.74 586.2,217.76 587.2,217.79 588.2,217.81 589.2,217.84 590.2,217.87 591.2,217.89 592.2,217.92 593.2,217.95 594.2,217.97 595.2,218 596.2,218.03 597.2,218.05 598.2,218.08 599.2,218.11 600.2,218.13 601.2,218.16 602.2,218.19 603.2,218.21 604.2,218.24 605.2,218.26 606.2,218.29 607.2,218.32 608.2,218.34 609.2,218.37 610.2,218.4 611.2,218.42 612.2,218.45 613.2,218.48 614.2,218.5 615.2,218.53 616.2,218.56 617.2,218.58 618.2,218.61 619.2,218.64 620.2,218.66 621.2,218.69 622.2,218.71 623.2,218.74 624.2,218.77 625.2,218.79 626.2,218.82 627.2,218.85 628.2,218.87 629.2,218.9 629.2,218.9" fill="none" stroke="#3c963c" stroke-width="3.6" stroke-opacity="0.6" stroke-linejoin="round"/>
<polyline points="72.8,211.9 73.8,211.91 74.8,211.92 75.8,211.92 76.8,211.93 77.8,211.94 78.8,211.95 79.8,211.96 80.8,211.97 81.8,211.97 82.8,211.98 83.8,211.99 84.8,212 85.8,212.01 86.8,212.02 87.8,212.02 88.8,212.03 89.8,212.04 90.8,212.05 91.8,212.06 92.8,212.07 93.8,212.07 94.8,212.08 95.8,212.09 96.8,212.1 97.8,212.11 98.8,212.11 99.8,212.12 100.8,212.13 101.8,212.14 102.8,212.15 103.8,212.16 104.8,212.16 105.8,212.17 106.8,212.18 107.8,212.19 108.8,212.2 109.8,212.21 110.8,212.21 111.8,212.22 112.8,212.23 113.8,212.24 114.8,212.25 115.8,212.26 116.8,212.26 117.8,212.27 118.8,212.28 119.8,212.29 120.8,212.3 121.8,212.3 122.8,212.31 123.8,212.32 124.8,212.33 125.8,212.34 126.8,212.35 127.8,212.35 128.8,212.36 129.8,212.37 130.8,212.38 131.8,212.39 132.8,212.4 133.8,212.4 134.8,212.41 135.8,212.42 136.8,212.43 137.8,212.44 138.8,212.45 139.8,212.45 140.8,212.46 141.8,212.47 142.8,212.48 143.8,212.49 144.8,212.49 145.8,212.5 146.8,212.51 147.8,212.52 148.8,212.53 149.8,212.54 150.8,212.54 151.8,212.55 152.8,212.56 153.8,212.57 154.8,212.58 155.8,212.59 156.8,212.59 157.8,212.6 158.8,212.61 159.8,212.62 160.8,212.63 161.8,212.64 162.8,212.64 163.8,212.65 164.8,212.66 165.8,212.67 166.8,212.68 167.8,212.68 168.8,212.69 169.8,212.7 170.8,212.71 171.8,212.72 172.8,212.73 173.8,212.73 174.8,212.74 175.8,212.75 176.8,212.76 177.8,212.77 178.8,212.78 179.8,212.78 180.8,212.79 181.8,212.8 182.8,212.81 183.8,212.82 184.8,212.82 185.8,212.83 186.8,212.84 187.8,212.85 188.8,212.86 189.8,212.87 190.8,212.87 191.8,212.88 192.8,212.89 193.8,212.9 194.8,212.91 195.8,212.92 196.8,212.92 197.8,212.93 198.8,212.94 199.8,212.95 200.8,212.96 201.8,212.97 202.8,212.97 203.8,212.98 204.8,212.99 205.8,213 206.8,213.01 207.8,213.01 208.8,213.02 209.8,213.03 210.8,213.04 211.8,213.05 212.8,213.06 213.8,213.06 214.8,213.07 215.8,213.08 216.8,213.09 217.8,213.1 218.8,213.11 219.8,213.11 220.8,213.12 221.8,213.13 222.8,213.14 223.8,213.15 224.8,213.16 225.8,213.16 226.8,213.17 227.8,213.18 228.8,213.19 229.8,213.2 230.8,213.2 231.8,213.21 232.8,213.22 233.8,213.23 234.8,213.24 235.8,213.25 236.8,213.25 237.8,213.26 238.8,213.27 239.8,213.28 240.8,213.29 241.8,213.3 242.8,213.3 243.8,213.31 244.8,213.32 245.8,213.33 246.8,213.34 247.8,213.35 248.8,213.35 249.8,213.36 250.8,213.37 251.8,213.38 252.8,213.39 253.8,213.39 254.8,213.4 255.8,213.41 256.8,213.42 257.8,213.43 258.8,213.44 259.8,213.44 260.8,213.45 261.8,213.46 262.8,213.47 263.8,213.48 264.8,213.49 265.8,213.49 266.8,213.5 267.8,213.51 268.8,213.52 269.8,213.53 270.8,213.54 271.8,213.54 272.8,213.55 273.8,213.56 274.8,213.57 275.8,213.58 276.8,213.58 277.8,213.59 278.8,213.6 279.8,213.61 280.8,213.62 281.8,213.63 282.8,213.63 283.8,213.64 284.8,213.65 285.8,213.66 286.8,213.67 287.8,213.68 288.8,213.68 289.8,213.69 290.8,213.7 291.8,213.71 292.8,213.72 293.8,213.73 294.8,213.73 295.8,213.74 296.8,213.75 297.8,213.76 298.8,213.77 299.8,213.77 300.8,213.78 301.8,213.79 302.8,213.8 303.8,213.81 304.8,213.82 305.8,213.82 306.8,213.83 307.8,213.84 308.8,213.85 309.8,213.86 310.8,213.87 311.8,213.87 312.8,213.88 313.8,213.89 314.8,213.9 315.8,213.91 316.8,213.91 317.8,213.92 318.8,213.93 319.8,213.94 320.8,213.95 321.8,213.96 322.8,213.96 323.8,213.97 324.8,213.98 325.8,213.99 326.8,214 327.8,214 328.8,214.01 329.8,214.02 330.8,214.03 331.8,214.03 332.8,214.04 333.8,214.04 334.8,214.05 335.8,214.05 336.8,214.06 337.8,214.06 338.8,214.06 339.8,214.06 340.8,214.06 341.8,214.05 342.8,214.05 343.8,214.03 344.8,214.02 345.8,214 346.8,213.97 347.8,213.94 348.8,213.9 349.8,213.86 350.8,213.8 351.8,213.73 352.8,213.65 353.8,213.55 354.8,213.44 355.8,213.31 356.8,213.17 357.8,213 358.8,212.8 359.8,212.58 360.8,212.33 361.8,212.05 362.8,211.74 363.8,211.4 364.8,211.02 365.8,210.6 366.8,210.14 367.8,209.63 368.8,209.09 369.8,208.51 370.8,207.88 371.8,207.2 372.8,206.49 373.8,205.73 374.8,204.93 375.8,204.09 376.8,203.22 377.8,202.31 378.8,201.37 379.8,200.41 380.8,199.41 381.8,198.4 382.8,197.37 383.8,196.33 384.8,195.27 385.8,194.21 386.8,193.15 387.8,192.08 388.8,191.02 389.8,189.96 390.8,188.9 391.8,187.84 392.8,186.78 393.8,185.72 394.8,184.66 395.8,183.59 396.8,182.5 397.8,181.4 398.8,180.27 399.8,179.11 400.8,177.91 401.8,176.66 402.8,175.36 403.8,173.98 404.8,172.53 405.8,171 406.8,169.38 407.8,167.65 408.8,165.82 409.8,163.88 410.8,161.82 411.8,159.64 412.8,157.33 413.8,154.9 414.8,152.34 415.8,149.66 416.8,146.85 417.8,143.94 418.8,140.91 419.8,137.79 420.8,134.57 421.8,131.28 422.8,127.93 423.8,124.52 424.8,121.08 425.8,117.62 426.8,114.16 427.8,110.71 428.8,107.31 429.8,103.95 430.8,100.68 431.8,97.49 432.8,94.42 433.8,91.49 434.8,88.7 435.8,86.09 436.8,83.66 437.8,81.43 438.8,79.42 439.8,77.64 440.8,76.1 441.8,74.82 442.8,73.8 443.8,73.05 444.8,72.57 445.8,72.38 446.8,72.46 447.8,72.83 448.8,73.48 449.8,74.41 450.8,75.61 451.8,77.08 452.8,78.8 453.8,80.77 454.8,82.98 455.8,85.41 456.8,88.06 457.8,90.9 458.8,93.91 459.8,97.1 460.8,100.43 461.8,103.89 462.8,107.46 463.8,111.13 464.8,114.88 465.8,118.68 466.8,122.53 467.8,126.41 468.8,130.29 469.8,134.17 470.8,138.03 471.8,141.87 472.8,145.66 473.8,149.39 474.8,153.05 475.8,156.62 476.8,160.11 477.8,163.49 478.8,166.77 479.8,169.94 480.8,172.99 481.8,175.92 482.8,178.72 483.8,181.4 484.8,183.95 485.8,186.37 486.8,188.67 487.8,190.84 488.8,192.88 489.8,194.8 490.8,196.61 491.8,198.29 492.8,199.87 493.8,201.34 494.8,202.7 495.8,203.96 496.8,205.13 497.8,206.21 498.8,207.2 499.8,208.11 500.8,208.95 501.8,209.72 502.8,210.41 503.8,211.05 504.8,211.63 505.8,212.16 506.8,212.64 507.8,213.07 508.8,213.46 509.8,213.81 510.8,214.13 511.8,214.42 512.8,214.68 513.8,214.91 514.8,215.12 515.8,215.3 516.8,215.47 517.8,215.62 518.8,215.76 519.8,215.88 520.8,215.99 521.8,216.09 522.8,216.18 523.8,216.26 524.8,216.34 525.8,216.41 526.8,216.47 527.8,216.53 528.8,216.58 529.8,216.63 530.8,216.67 531.8,216.72 532.8,216.76 533.8,216.8 534.8,216.83 535.8,216.87 536.8,216.9 537.8,216.93 538.8,216.97 539.8,217 540.8,217.03 541.8,217.06 542.8,217.08 543.8,217.11 544.8,217.14 545.8,217.17 546.8,217.2 547.8,217.22 548.8,217.25 549.8,217.28 550.8,217.31 551.8,217.33 552.8,217.36 553.8,217.39 554.8,217.41 555.8,217.44 556.8,217.47 557.8,217.49 558.8,217.52 559.8,217.55 560.8,217.57 561.8,217.6 562.8,217.63 563.8,217.65 564.8,217.68 565.8,217.71 566.8,217.73 567.8,217.76 568.8,217.79 569.8,217.81 570.8,217.84 571.8,217.86 572.8,217.89 573.8,217.92 574.8,217.94 575.8,217.97 576.8,218 577.8,218.02 578.8,218.05 579.8,218.08 580.8,218.1 581.8,218.13 582.8,218.16 583.8,218.18 584.8,218.21 585.8,218.24 586.8,218.26 587.8,218.29 588.8,218.31 589.8,218.34 590.8,218.37 591.8,218.39 592.8,218.42 593.8,218.45 594.8,218.47 595.8,218.5 596.8,218.53 597.8,218.55 598.8,218.58 599.8,218.61 600.8,218.63 601.8,218.66 602.8,218.69 603.8,218.71 604.8,218.74 605.8,218.76 606.8,218.79 607.8,218.82 608.8,218.84 609.8,218.87 610.8,218.9 611.8,218.92 612.8,218.95 613.8,218.98 614.8,219 615.8,219.03 616.8,219.06 617.8,219.08 618.8,219.11 619.8,219.14 620.8,219.16 621.8,219.19 622.8,219.21 623.8,219.24 624.8,219.27 625.8,219.29 626.8,219.32 627.8,219.35 628.8,219.37 629.8,219.4 629.8,219.4" fill="none" stroke="#2a7a10" stroke-width="1.8" stroke-opacity="0.8" stroke-linejoin="round"/>
<polyline points="72.5,212.3 76.6,215.4 84.9,209.2 92.7,215.9 96.3,211.2 104.7,212.3 113,212.3 116.6,210.2 121.3,212.3 128,209.5 132.7,210.7 141,210.5 148.3,208.9 155.5,210.2 160.2,208.7 164.4,213.3 168,209.7 172.1,208.1 177.3,209.7 183.6,210.2 188.2,208.4 190.8,210.2 200,211.4 203.7,209.2 207.4,211.4 215.6,209.5 219.3,211.4 227.4,211.4 231.9,215.9 235.6,214.4 243,212.2 247.5,212.2 251.9,208.4 255.6,212.2 260.1,208.4 263.8,209.5 268.2,208.6 275.7,209.2 283.1,205.5 287.5,209.9 292,205.5 296.4,207.7 300.9,204.9 309.8,204.5 315,203 318.7,206.7 323.1,209.4 329.1,204.9 335,202.7 342.4,204.5 350.6,205.7 355,208.6 363.2,202.6 369.1,203 375,200.8 381,198.5 387,196.5 391.4,194.8 394.4,189.6 398,178.71 401,176.05 404,171.44 407,167.32 410,161.62 413,153.09 416,144.96 419,138.43 422,126.88 425,116.51 428,108.47 431,97.03 434,89.26 437,80.79 440,75.8 443,71.13 446,71.83 449,74.31 452,77.51 455,84.63 458,92.81 461,100.88 464,113.9 467,124.9 470,135.66 473,146.24 476,159.52 479,168.23 482,177.83 485,186.04 488,192.13 491,198.23 494,201.12 497,205.9 502.5,209.4 507.2,211.1 510.5,211.1 513.9,213.1 517.2,211.5 520,211.5 523.9,214.4 531.2,216 538.4,214.4 545.7,215.4 549.8,217.2 558.2,216 567.5,216.5 574.8,214.9 580,216 586.2,215.1 591.4,217.2 603.8,218 614.2,218 620.5,217.2 624.6,220.1 628.8,218" fill="none" stroke="#5a5a5a" stroke-width="1.7" stroke-opacity="0.9" stroke-linejoin="round"/>
<polygon points="72.2,390.34 73.2,390.33 74.2,390.33 75.2,390.33 76.2,390.33 77.2,390.33 78.2,390.32 79.2,390.32 80.2,390.32 81.2,390.32 82.2,390.32 83.2,390.31 84.2,390.31 85.2,390.31 86.2,390.31 87.2,390.31 88.2,390.3 89.2,390.3 90.2,390.3 91.2,390.3 92.2,390.29 93.2,390.29 94.2,390.29 95.2,390.29 96.2,390.28 97.2,390.28 98.2,390.28 99.2,390.27 100.2,390.27 101.2,390.27 102.2,390.26 103.2,390.26 104.2,390.26 105.2,390.25 106.2,390.25 107.2,390.25 108.2,390.24 109.2,390.24 110.2,390.24 111.2,390.23 112.2,390.23 113.2,390.22 114.2,390.22 115.2,390.21 116.2,390.21 117.2,390.2 118.2,390.2 119.2,390.19 120.2,390.18 121.2,390.18 122.2,390.17 123.2,390.16 124.2,390.16 125.2,390.15 126.2,390.14 127.2,390.13 128.2,390.12 129.2,390.11 130.2,390.1 131.2,390.09 132.2,390.07 133.2,390.06 134.2,390.05 135.2,390.03 136.2,390.02 137.2,390 138.2,389.98 139.2,389.96 140.2,389.94 141.2,389.92 142.2,389.89 143.2,389.87 144.2,389.84 145.2,389.81 146.2,389.78 147.2,389.74 148.2,389.71 149.2,389.67 150.2,389.63 151.2,389.58 152.2,389.54 153.2,389.49 154.2,389.43 155.2,389.37 156.2,389.31 157.2,389.25 158.2,389.18 159.2,389.1 160.2,389.02 161.2,388.94 162.2,388.85 163.2,388.75 164.2,388.65 165.2,388.54 166.2,388.43 167.2,388.31 168.2,388.18 169.2,388.05 170.2,387.9 171.2,387.75 172.2,387.59 173.2,387.43 174.2,387.25 175.2,387.06 176.2,386.87 177.2,386.67 178.2,386.45 179.2,386.23 180.2,385.99 181.2,385.74 182.2,385.49 183.2,385.22 184.2,384.94 185.2,384.65 186.2,384.34 187.2,384.03 188.2,383.7 189.2,383.36 190.2,383 191.2,382.64 192.2,382.26 193.2,381.87 194.2,381.47 195.2,381.05 196.2,380.62 197.2,380.19 198.2,379.73 199.2,379.27 200.2,378.8 201.2,378.31 202.2,377.81 203.2,377.31 204.2,376.79 205.2,376.26 206.2,375.73 207.2,375.19 208.2,374.63 209.2,374.08 210.2,373.51 211.2,372.94 212.2,372.37 213.2,371.79 214.2,371.2 215.2,370.62 216.2,370.03 217.2,369.45 218.2,368.86 219.2,368.28 220.2,367.7 221.2,367.12 222.2,366.55 223.2,365.99 224.2,365.43 225.2,364.88 226.2,364.35 227.2,363.82 228.2,363.31 229.2,362.81 230.2,362.32 231.2,361.85 232.2,361.4 233.2,360.97 234.2,360.56 235.2,360.16 236.2,359.8 237.2,359.45 238.2,359.13 239.2,358.83 240.2,358.56 241.2,358.32 242.2,358.1 243.2,357.92 244.2,357.76 245.2,357.63 246.2,357.54 247.2,357.47 248.2,357.44 249.2,357.44 250.2,357.47 251.2,357.53 252.2,357.62 253.2,357.74 254.2,357.89 255.2,358.08 256.2,358.29 257.2,358.53 258.2,358.8 259.2,359.1 260.2,359.43 261.2,359.78 262.2,360.16 263.2,360.56 264.2,360.98 265.2,361.42 266.2,361.89 267.2,362.37 268.2,362.88 269.2,363.4 270.2,363.93 271.2,364.48 272.2,365.05 273.2,365.62 274.2,366.21 275.2,366.8 276.2,367.4 277.2,368.01 278.2,368.63 279.2,369.25 280.2,369.87 281.2,370.49 282.2,371.12 283.2,371.74 284.2,372.37 285.2,372.99 286.2,373.61 287.2,374.23 288.2,374.84 289.2,375.44 290.2,376.04 291.2,376.63 292.2,377.21 293.2,377.78 294.2,378.35 295.2,378.9 296.2,379.45 297.2,379.98 298.2,380.5 299.2,381.01 300.2,381.51 301.2,382 302.2,382.47 303.2,382.93 304.2,383.38 305.2,383.81 306.2,384.24 307.2,384.65 308.2,385.04 309.2,385.42 310.2,385.79 311.2,386.15 312.2,386.49 313.2,386.82 314.2,387.14 315.2,387.45 316.2,387.74 317.2,388.02 318.2,388.29 319.2,388.55 320.2,388.8 321.2,389.03 322.2,389.26 323.2,389.47 324.2,389.68 325.2,389.87 326.2,390.06 327.2,390.24 328.2,390.41 329.2,390.57 330.2,390.72 331.2,390.87 332.2,391 333.2,391.14 334.2,391.26 335.2,391.38 336.2,391.49 337.2,391.6 338.2,391.7 339.2,391.8 340.2,391.9 341.2,391.98 342.2,392.07 343.2,392.15 344.2,392.23 345.2,392.31 346.2,392.38 347.2,392.45 348.2,392.52 349.2,392.59 350.2,392.65 351.2,392.72 352.2,392.78 353.2,392.84 354.2,392.9 355.2,392.96 356.2,393.03 357.2,393.09 358.2,393.15 359.2,393.21 360.2,393.27 361.2,393.33 362.2,393.4 363.2,393.46 364.2,393.53 365.2,393.6 366.2,393.67 367.2,393.74 368.2,393.81 369.2,393.88 370.2,393.96 371.2,394.03 372.2,394.11 373.2,394.19 374.2,394.28 375.2,394.36 376.2,394.45 377.2,394.54 378.2,394.63 379.2,394.73 380.2,394.82 381.2,394.92 382.2,395.02 383.2,395.13 384.2,395.23 385.2,395.34 386.2,395.45 387.2,395.56 388.2,395.67 389.2,395.79 390.2,395.9 391.2,396.02 392.2,396.14 393.2,396.26 394.2,396.38 395.2,396.5 396.2,396.63 397.2,396.75 398.2,396.88 399.2,397 400.2,397.13 401.2,397.25 402.2,397.38 403.2,397.5 404.2,397.63 405.2,397.76 406.2,397.88 407.2,398.01 408.2,398.13 409.2,398.25 410.2,398.37 411.2,398.49 412.2,398.61 413.2,398.73 414.2,398.84 415.2,398.96 416.2,399.07 417.2,399.18 418.2,399.29 419.2,399.4 420.2,399.5 421.2,399.6 422.2,399.7 423.2,399.8 424.2,399.89 425.2,399.98 426.2,400.07 427.2,400.16 428.2,400.25 429.2,400.33 430.2,400.41 431.2,400.48 432.2,400.56 433.2,400.63 434.2,400.7 435.2,400.76 436.2,400.83 437.2,400.89 438.2,400.94 439.2,401 440.2,401.05 441.2,401.1 442.2,401.15 443.2,401.2 444.2,401.24 445.2,401.28 446.2,401.32 447.2,401.36 448.2,401.4 449.2,401.43 450.2,401.46 451.2,401.49 452.2,401.52 453.2,401.55 454.2,401.57 455.2,401.6 456.2,401.62 457.2,401.64 458.2,401.66 459.2,401.68 460.2,401.7 461.2,401.71 462.2,401.73 463.2,401.74 464.2,401.76 465.2,401.77 466.2,401.78 467.2,401.79 468.2,401.8 469.2,401.81 470.2,401.82 471.2,401.82 472.2,401.83 473.2,401.84 474.2,401.84 475.2,401.85 476.2,401.86 477.2,401.86 478.2,401.86 479.2,401.87 479.2,401.97 478.2,401.97 477.2,401.96 476.2,401.96 475.2,401.95 474.2,401.95 473.2,401.94 472.2,401.94 471.2,401.93 470.2,401.93 469.2,401.92 468.2,401.91 467.2,401.9 466.2,401.89 465.2,401.88 464.2,401.87 463.2,401.86 462.2,401.84 461.2,401.83 460.2,401.82 459.2,401.8 458.2,401.78 457.2,401.76 456.2,401.74 455.2,401.72 454.2,401.7 453.2,401.68 452.2,401.65 451.2,401.62 450.2,401.59 449.2,401.56 448.2,401.53 447.2,401.5 446.2,401.46 445.2,401.42 444.2,401.38 443.2,401.34 442.2,401.29 441.2,401.25 440.2,401.2 439.2,401.15 438.2,401.09 437.2,401.03 436.2,400.98 435.2,400.91 434.2,400.85 433.2,400.78 432.2,400.71 431.2,400.64 430.2,400.57 429.2,400.49 428.2,400.41 427.2,400.33 426.2,400.24 425.2,400.15 424.2,400.06 423.2,399.97 422.2,399.88 421.2,399.78 420.2,399.68 419.2,399.58 418.2,399.47 417.2,399.37 416.2,399.26 415.2,399.15 414.2,399.04 413.2,398.92 412.2,398.81 411.2,398.69 410.2,398.57 409.2,398.45 408.2,398.33 407.2,398.21 406.2,398.09 405.2,397.97 404.2,397.85 403.2,397.72 402.2,397.6 401.2,397.48 400.2,397.35 399.2,397.23 398.2,397.11 397.2,396.99 396.2,396.87 395.2,396.75 394.2,396.63 393.2,396.51 392.2,396.39 391.2,396.28 390.2,396.16 389.2,396.05 388.2,395.94 387.2,395.83 386.2,395.73 385.2,395.62 384.2,395.52 383.2,395.42 382.2,395.32 381.2,395.23 380.2,395.14 379.2,395.05 378.2,394.96 377.2,394.87 376.2,394.79 375.2,394.71 374.2,394.63 373.2,394.56 372.2,394.49 371.2,394.42 370.2,394.35 369.2,394.29 368.2,394.22 367.2,394.16 366.2,394.11 365.2,394.05 364.2,394 363.2,393.95 362.2,393.9 361.2,393.86 360.2,393.82 359.2,393.78 358.2,393.74 357.2,393.7 356.2,393.67 355.2,393.63 354.2,393.6 353.2,393.57 352.2,393.55 351.2,393.52 350.2,393.5 349.2,393.47 348.2,393.45 347.2,393.43 346.2,393.41 345.2,393.39 344.2,393.38 343.2,393.36 342.2,393.35 341.2,393.33 340.2,393.32 339.2,393.31 338.2,393.3 337.2,393.29 336.2,393.28 335.2,393.27 334.2,393.26 333.2,393.25 332.2,393.24 331.2,393.23 330.2,393.23 329.2,393.22 328.2,393.21 327.2,393.21 326.2,393.2 325.2,393.2 324.2,393.19 323.2,393.18 322.2,393.18 321.2,393.17 320.2,393.17 319.2,393.16 318.2,393.16 317.2,393.15 316.2,393.14 315.2,393.14 314.2,393.13 313.2,393.13 312.2,393.12 311.2,393.11 310.2,393.11 309.2,393.1 308.2,393.09 307.2,393.08 306.2,393.07 305.2,393.07 304.2,393.06 303.2,393.05 302.2,393.04 301.2,393.03 300.2,393.02 299.2,393.01 298.2,393 297.2,392.98 296.2,392.97 295.2,392.96 294.2,392.95 293.2,392.93 292.2,392.92 291.2,392.9 290.2,392.89 289.2,392.87 288.2,392.85 287.2,392.84 286.2,392.82 285.2,392.8 284.2,392.78 283.2,392.76 282.2,392.74 281.2,392.72 280.2,392.7 279.2,392.68 278.2,392.66 277.2,392.64 276.2,392.61 275.2,392.59 274.2,392.56 273.2,392.54 272.2,392.51 271.2,392.49 270.2,392.46 269.2,392.44 268.2,392.41 267.2,392.38 266.2,392.35 265.2,392.32 264.2,392.3 263.2,392.27 262.2,392.24 261.2,392.21 260.2,392.18 259.2,392.15 258.2,392.11 257.2,392.08 256.2,392.05 255.2,392.02 254.2,391.99 253.2,391.96 252.2,391.93 251.2,391.89 250.2,391.86 249.2,391.83 248.2,391.8 247.2,391.77 246.2,391.74 245.2,391.7 244.2,391.67 243.2,391.64 242.2,391.61 241.2,391.58 240.2,391.55 239.2,391.52 238.2,391.49 237.2,391.46 236.2,391.43 235.2,391.4 234.2,391.37 233.2,391.34 232.2,391.31 231.2,391.29 230.2,391.26 229.2,391.23 228.2,391.21 227.2,391.18 226.2,391.15 225.2,391.13 224.2,391.11 223.2,391.08 222.2,391.06 221.2,391.04 220.2,391.01 219.2,390.99 218.2,390.97 217.2,390.95 216.2,390.93 215.2,390.91 214.2,390.89 213.2,390.88 212.2,390.86 211.2,390.84 210.2,390.83 209.2,390.81 208.2,390.79 207.2,390.78 206.2,390.77 205.2,390.75 204.2,390.74 203.2,390.73 202.2,390.71 201.2,390.7 200.2,390.69 199.2,390.68 198.2,390.67 197.2,390.66 196.2,390.65 195.2,390.64 194.2,390.63 193.2,390.63 192.2,390.62 191.2,390.61 190.2,390.61 189.2,390.6 188.2,390.59 187.2,390.59 186.2,390.58 185.2,390.58 184.2,390.57 183.2,390.57 182.2,390.56 181.2,390.56 180.2,390.55 179.2,390.55 178.2,390.55 177.2,390.54 176.2,390.54 175.2,390.54 174.2,390.53 173.2,390.53 172.2,390.53 171.2,390.53 170.2,390.52 169.2,390.52 168.2,390.52 167.2,390.52 166.2,390.52 165.2,390.52 164.2,390.52 163.2,390.51 162.2,390.51 161.2,390.51 160.2,390.51 159.2,390.51 158.2,390.51 157.2,390.51 156.2,390.51 155.2,390.51 154.2,390.51 153.2,390.51 152.2,390.51 151.2,390.5 150.2,390.5 149.2,390.5 148.2,390.5 147.2,390.5 146.2,390.5 145.2,390.5 144.2,390.5 143.2,390.5 142.2,390.5 141.2,390.5 140.2,390.5 139.2,390.5 138.2,390.5 137.2,390.5 136.2,390.5 135.2,390.5 134.2,390.5 133.2,390.5 132.2,390.5 131.2,390.5 130.2,390.5 129.2,390.5 128.2,390.5 127.2,390.5 126.2,390.5 125.2,390.5 124.2,390.5 123.2,390.5 122.2,390.5 121.2,390.5 120.2,390.5 119.2,390.5 118.2,390.5 117.2,390.5 116.2,390.5 115.2,390.5 114.2,390.5 113.2,390.5 112.2,390.5 111.2,390.5 110.2,390.5 109.2,390.5 108.2,390.5 107.2,390.5 106.2,390.5 105.2,390.5 104.2,390.5 103.2,390.5 102.2,390.5 101.2,390.5 100.2,390.5 99.2,390.5 98.2,390.5 97.2,390.5 96.2,390.5 95.2,390.5 94.2,390.5 93.2,390.5 92.2,390.5 91.2,390.5 90.2,390.5 89.2,390.5 88.2,390.5 87.2,390.5 86.2,390.5 85.2,390.5 84.2,390.5 83.2,390.5 82.2,390.5 81.2,390.5 80.2,390.5 79.2,390.5 78.2,390.5 77.2,390.5 76.2,390.5 75.2,390.5 74.2,390.5 73.2,390.5 72.2,390.5" fill="#ff00ff" fill-opacity="0.5"/>
<polygon points="270.2,391.65 271.2,391.67 272.2,391.68 273.2,391.69 274.2,391.7 275.2,391.72 276.2,391.73 277.2,391.73 278.2,391.74 279.2,391.75 280.2,391.75 281.2,391.76 282.2,391.76 283.2,391.76 284.2,391.77 285.2,391.76 286.2,391.76 287.2,391.76 288.2,391.75 289.2,391.75 290.2,391.74 291.2,391.73 292.2,391.71 293.2,391.7 294.2,391.68 295.2,391.66 296.2,391.64 297.2,391.62 298.2,391.59 299.2,391.56 300.2,391.52 301.2,391.48 302.2,391.44 303.2,391.39 304.2,391.34 305.2,391.28 306.2,391.21 307.2,391.14 308.2,391.07 309.2,390.98 310.2,390.89 311.2,390.79 312.2,390.68 313.2,390.56 314.2,390.43 315.2,390.28 316.2,390.13 317.2,389.96 318.2,389.77 319.2,389.57 320.2,389.35 321.2,389.12 322.2,388.86 323.2,388.58 324.2,388.28 325.2,387.96 326.2,387.61 327.2,387.24 328.2,386.83 329.2,386.4 330.2,385.93 331.2,385.43 332.2,384.89 333.2,384.32 334.2,383.7 335.2,383.05 336.2,382.35 337.2,381.6 338.2,380.81 339.2,379.97 340.2,379.07 341.2,378.13 342.2,377.13 343.2,376.07 344.2,374.95 345.2,373.77 346.2,372.53 347.2,371.23 348.2,369.86 349.2,368.43 350.2,366.93 351.2,365.36 352.2,363.73 353.2,362.02 354.2,360.25 355.2,358.41 356.2,356.51 357.2,354.53 358.2,352.49 359.2,350.39 360.2,348.22 361.2,345.99 362.2,343.71 363.2,341.36 364.2,338.96 365.2,336.52 366.2,334.02 367.2,331.48 368.2,328.91 369.2,326.29 370.2,323.66 371.2,320.99 372.2,318.31 373.2,315.62 374.2,312.92 375.2,310.22 376.2,307.53 377.2,304.85 378.2,302.19 379.2,299.57 380.2,296.98 381.2,294.43 382.2,291.94 383.2,289.5 384.2,287.14 385.2,284.85 386.2,282.64 387.2,280.53 388.2,278.52 389.2,276.61 390.2,274.83 391.2,273.16 392.2,271.62 393.2,270.22 394.2,268.97 395.2,267.86 396.2,266.9 397.2,266.1 398.2,265.47 399.2,265 400.2,264.7 401.2,264.56 402.2,264.6 403.2,264.81 404.2,265.19 405.2,265.74 406.2,266.45 407.2,267.33 408.2,268.37 409.2,269.56 410.2,270.91 411.2,272.4 412.2,274.04 413.2,275.8 414.2,277.7 415.2,279.71 416.2,281.83 417.2,284.06 418.2,286.39 419.2,288.8 420.2,291.29 421.2,293.86 422.2,296.49 423.2,299.17 424.2,301.9 425.2,304.67 426.2,307.48 427.2,310.3 428.2,313.14 429.2,316 430.2,318.85 431.2,321.7 432.2,324.54 433.2,327.36 434.2,330.15 435.2,332.92 436.2,335.66 437.2,338.35 438.2,341 439.2,343.61 440.2,346.16 441.2,348.66 442.2,351.1 443.2,353.47 444.2,355.79 445.2,358.04 446.2,360.22 447.2,362.33 448.2,364.37 449.2,366.34 450.2,368.25 451.2,370.07 452.2,371.83 453.2,373.52 454.2,375.13 455.2,376.68 456.2,378.15 457.2,379.56 458.2,380.9 459.2,382.18 460.2,383.39 461.2,384.54 462.2,385.62 463.2,386.65 464.2,387.63 465.2,388.54 466.2,389.41 467.2,390.22 468.2,390.98 469.2,391.7 470.2,392.37 471.2,393 472.2,393.59 473.2,394.14 474.2,394.65 475.2,395.13 476.2,395.58 477.2,395.99 478.2,396.38 479.2,396.73 480.2,397.07 481.2,397.37 482.2,397.66 483.2,397.92 484.2,398.17 485.2,398.39 486.2,398.6 487.2,398.79 488.2,398.97 489.2,399.13 490.2,399.28 491.2,399.42 492.2,399.55 493.2,399.67 494.2,399.78 495.2,399.88 496.2,399.97 497.2,400.06 498.2,400.14 499.2,400.21 500.2,400.28 501.2,400.34 502.2,400.4 503.2,400.45 504.2,400.5 505.2,400.55 506.2,400.59 507.2,400.63 508.2,400.67 509.2,400.7 510.2,400.74 511.2,400.77 512.2,400.8 513.2,400.83 514.2,400.85 515.2,400.88 516.2,400.9 517.2,400.92 518.2,400.94 519.2,400.96 520.2,400.98 521.2,401 522.2,401.02 523.2,401.04 524.2,401.05 525.2,401.07 526.2,401.08 527.2,401.1 528.2,401.11 529.2,401.13 530.2,401.14 531.2,401.15 532.2,401.17 533.2,401.18 534.2,401.19 535.2,401.2 536.2,401.21 537.2,401.22 538.2,401.24 539.2,401.25 539.2,402 538.2,402 537.2,402 536.2,402 535.2,402 534.2,402 533.2,402 532.2,402 531.2,402 530.2,402 529.2,402 528.2,402 527.2,402 526.2,402 525.2,402 524.2,402 523.2,402 522.2,402 521.2,402 520.2,402 519.2,402 518.2,402 517.2,402 516.2,402 515.2,402 514.2,402 513.2,402 512.2,402 511.2,402 510.2,402 509.2,402 508.2,402 507.2,402 506.2,402 505.2,402 504.2,402 503.2,402 502.2,402 501.2,402 500.2,402 499.2,402 498.2,402 497.2,402 496.2,402 495.2,402 494.2,401.99 493.2,401.99 492.2,401.99 491.2,401.99 490.2,401.99 489.2,401.99 488.2,401.99 487.2,401.99 486.2,401.99 485.2,401.98 484.2,401.98 483.2,401.98 482.2,401.98 481.2,401.98 480.2,401.97 479.2,401.97 478.2,401.97 477.2,401.96 476.2,401.96 475.2,401.95 474.2,401.95 473.2,401.94 472.2,401.94 471.2,401.93 470.2,401.93 469.2,401.92 468.2,401.91 467.2,401.9 466.2,401.89 465.2,401.88 464.2,401.87 463.2,401.86 462.2,401.84 461.2,401.83 460.2,401.82 459.2,401.8 458.2,401.78 457.2,401.76 456.2,401.74 455.2,401.72 454.2,401.7 453.2,401.68 452.2,401.65 451.2,401.62 450.2,401.59 449.2,401.56 448.2,401.53 447.2,401.5 446.2,401.46 445.2,401.42 444.2,401.38 443.2,401.34 442.2,401.29 441.2,401.25 440.2,401.2 439.2,401.15 438.2,401.09 437.2,401.03 436.2,400.98 435.2,400.91 434.2,400.85 433.2,400.78 432.2,400.71 431.2,400.64 430.2,400.57 429.2,400.49 428.2,400.41 427.2,400.33 426.2,400.24 425.2,400.15 424.2,400.06 423.2,399.97 422.2,399.88 421.2,399.78 420.2,399.68 419.2,399.58 418.2,399.47 417.2,399.37 416.2,399.26 415.2,399.15 414.2,399.04 413.2,398.92 412.2,398.81 411.2,398.69 410.2,398.57 409.2,398.45 408.2,398.33 407.2,398.21 406.2,398.09 405.2,397.97 404.2,397.85 403.2,397.72 402.2,397.6 401.2,397.48 400.2,397.35 399.2,397.23 398.2,397.11 397.2,396.99 396.2,396.87 395.2,396.75 394.2,396.63 393.2,396.51 392.2,396.39 391.2,396.28 390.2,396.16 389.2,396.05 388.2,395.94 387.2,395.83 386.2,395.73 385.2,395.62 384.2,395.52 383.2,395.42 382.2,395.32 381.2,395.23 380.2,395.14 379.2,395.05 378.2,394.96 377.2,394.87 376.2,394.79 375.2,394.71 374.2,394.63 373.2,394.56 372.2,394.49 371.2,394.42 370.2,394.35 369.2,394.29 368.2,394.22 367.2,394.16 366.2,394.11 365.2,394.05 364.2,394 363.2,393.95 362.2,393.9 361.2,393.86 360.2,393.82 359.2,393.78 358.2,393.74 357.2,393.7 356.2,393.67 355.2,393.63 354.2,393.6 353.2,393.57 352.2,393.55 351.2,393.52 350.2,393.5 349.2,393.47 348.2,393.45 347.2,393.43 346.2,393.41 345.2,393.39 344.2,393.38 343.2,393.36 342.2,393.35 341.2,393.33 340.2,393.32 339.2,393.31 338.2,393.3 337.2,393.29 336.2,393.28 335.2,393.27 334.2,393.26 333.2,393.25 332.2,393.24 331.2,393.23 330.2,393.23 329.2,393.22 328.2,393.21 327.2,393.21 326.2,393.2 325.2,393.2 324.2,393.19 323.2,393.18 322.2,393.18 321.2,393.17 320.2,393.17 319.2,393.16 318.2,393.16 317.2,393.15 316.2,393.14 315.2,393.14 314.2,393.13 313.2,393.13 312.2,393.12 311.2,393.11 310.2,393.11 309.2,393.1 308.2,393.09 307.2,393.08 306.2,393.07 305.2,393.07 304.2,393.06 303.2,393.05 302.2,393.04 301.2,393.03 300.2,393.02 299.2,393.01 298.2,393 297.2,392.98 296.2,392.97 295.2,392.96 294.2,392.95 293.2,392.93 292.2,392.92 291.2,392.9 290.2,392.89 289.2,392.87 288.2,392.85 287.2,392.84 286.2,392.82 285.2,392.8 284.2,392.78 283.2,392.76 282.2,392.74 281.2,392.72 280.2,392.7 279.2,392.68 278.2,392.66 277.2,392.64 276.2,392.61 275.2,392.59 274.2,392.56 273.2,392.54 272.2,392.51 271.2,392.49 270.2,392.46" fill="#0000ff" fill-opacity="0.5"/>
<polyline points="72.2,390.34 73.2,390.33 74.2,390.33 75.2,390.33 76.2,390.33 77.2,390.33 78.2,390.32 79.2,390.32 80.2,390.32 81.2,390.32 82.2,390.32 83.2,390.31 84.2,390.31 85.2,390.31 86.2,390.31 87.2,390.31 88.2,390.3 89.2,390.3 90.2,390.3 91.2,390.3 92.2,390.29 93.2,390.29 94.2,390.29 95.2,390.29 96.2,390.28 97.2,390.28 98.2,390.28 99.2,390.27 100.2,390.27 101.2,390.27 102.2,390.26 103.2,390.26 104.2,390.26 105.2,390.25 106.2,390.25 107.2,390.25 108.2,390.24 109.2,390.24 110.2,390.24 111.2,390.23 112.2,390.23 113.2,390.22 114.2,390.22 115.2,390.21 116.2,390.21 117.2,390.2 118.2,390.2 119.2,390.19 120.2,390.18 121.2,390.18 122.2,390.17 123.2,390.16 124.2,390.16 125.2,390.15 126.2,390.14 127.2,390.13 128.2,390.12 129.2,390.11 130.2,390.1 131.2,390.09 132.2,390.07 133.2,390.06 134.2,390.05 135.2,390.03 136.2,390.02 137.2,390 138.2,389.98 139.2,389.96 140.2,389.94 141.2,389.92 142.2,389.89 143.2,389.87 144.2,389.84 145.2,389.81 146.2,389.78 147.2,389.74 148.2,389.71 149.2,389.67 150.2,389.63 151.2,389.58 152.2,389.54 153.2,389.49 154.2,389.43 155.2,389.37 156.2,389.31 157.2,389.25 158.2,389.18 159.2,389.1 160.2,389.02 161.2,388.94 162.2,388.85 163.2,388.75 164.2,388.65 165.2,388.54 166.2,388.43 167.2,388.31 168.2,388.18 169.2,388.05 170.2,387.9 171.2,387.75 172.2,387.59 173.2,387.43 174.2,387.25 175.2,387.06 176.2,386.87 177.2,386.67 178.2,386.45 179.2,386.23 180.2,385.99 181.2,385.74 182.2,385.49 183.2,385.22 184.2,384.94 185.2,384.65 186.2,384.34 187.2,384.03 188.2,383.7 189.2,383.36 190.2,383 191.2,382.64 192.2,382.26 193.2,381.87 194.2,381.47 195.2,381.05 196.2,380.62 197.2,380.19 198.2,379.73 199.2,379.27 200.2,378.8 201.2,378.31 202.2,377.81 203.2,377.31 204.2,376.79 205.2,376.26 206.2,375.73 207.2,375.19 208.2,374.63 209.2,374.08 210.2,373.51 211.2,372.94 212.2,372.37 213.2,371.79 214.2,371.2 215.2,370.62 216.2,370.03 217.2,369.45 218.2,368.86 219.2,368.28 220.2,367.7 221.2,367.12 222.2,366.55 223.2,365.99 224.2,365.43 225.2,364.88 226.2,364.35 227.2,363.82 228.2,363.31 229.2,362.81 230.2,362.32 231.2,361.85 232.2,361.4 233.2,360.97 234.2,360.56 235.2,360.16 236.2,359.8 237.2,359.45 238.2,359.13 239.2,358.83 240.2,358.56 241.2,358.32 242.2,358.1 243.2,357.92 244.2,357.76 245.2,357.63 246.2,357.54 247.2,357.47 248.2,357.44 249.2,357.44 250.2,357.47 251.2,357.53 252.2,357.62 253.2,357.74 254.2,357.89 255.2,358.08 256.2,358.29 257.2,358.53 258.2,358.8 259.2,359.1 260.2,359.43 261.2,359.78 262.2,360.16 263.2,360.56 264.2,360.98 265.2,361.42 266.2,361.89 267.2,362.37 268.2,362.88 269.2,363.4 270.2,363.93 271.2,364.48 272.2,365.05 273.2,365.62 274.2,366.21 275.2,366.8 276.2,367.4 277.2,368.01 278.2,368.63 279.2,369.25 280.2,369.87 281.2,370.49 282.2,371.12 283.2,371.74 284.2,372.37 285.2,372.99 286.2,373.61 287.2,374.23 288.2,374.84 289.2,375.44 290.2,376.04 291.2,376.63 292.2,377.21 293.2,377.78 294.2,378.35 295.2,378.9 296.2,379.45 297.2,379.98 298.2,380.5 299.2,381.01 300.2,381.51 301.2,382 302.2,382.47 303.2,382.93 304.2,383.38 305.2,383.81 306.2,384.24 307.2,384.65 308.2,385.04 309.2,385.42 310.2,385.79 311.2,386.15 312.2,386.49 313.2,386.82 314.2,387.14 315.2,387.45 316.2,387.74 317.2,388.02 318.2,388.29 319.2,388.55 320.2,388.8 321.2,389.03 322.2,389.26 323.2,389.47 324.2,389.68 325.2,389.87 326.2,390.06 327.2,390.24 328.2,390.41 329.2,390.57 330.2,390.72 331.2,390.87 332.2,391 333.2,391.14 334.2,391.26 335.2,391.38 336.2,391.49 337.2,391.6 338.2,391.7 339.2,391.8 340.2,391.9 341.2,391.98 342.2,392.07 343.2,392.15 344.2,392.23 345.2,392.31 346.2,392.38 347.2,392.45 348.2,392.52 349.2,392.59 350.2,392.65 351.2,392.72 352.2,392.78 353.2,392.84 354.2,392.9 355.2,392.96 356.2,393.03 357.2,393.09 358.2,393.15 359.2,393.21 360.2,393.27 361.2,393.33 362.2,393.4 363.2,393.46 364.2,393.53 365.2,393.6 366.2,393.67 367.2,393.74 368.2,393.81 369.2,393.88 370.2,393.96 371.2,394.03 372.2,394.11 373.2,394.19 374.2,394.28 375.2,394.36 376.2,394.45 377.2,394.54 378.2,394.63 379.2,394.73 380.2,394.82 381.2,394.92 382.2,395.02 383.2,395.13 384.2,395.23 385.2,395.34 386.2,395.45 387.2,395.56 388.2,395.67 389.2,395.79 390.2,395.9 391.2,396.02 392.2,396.14 393.2,396.26 394.2,396.38 395.2,396.5 396.2,396.63 397.2,396.75 398.2,396.88 399.2,397 400.2,397.13 401.2,397.25 402.2,397.38 403.2,397.5 404.2,397.63 405.2,397.76 406.2,397.88 407.2,398.01 408.2,398.13 409.2,398.25 410.2,398.37 411.2,398.49 412.2,398.61 413.2,398.73 414.2,398.84 415.2,398.96 416.2,399.07 417.2,399.18 418.2,399.29 419.2,399.4 420.2,399.5 421.2,399.6 422.2,399.7 423.2,399.8 424.2,399.89 425.2,399.98 426.2,400.07 427.2,400.16 428.2,400.25 429.2,400.33 430.2,400.41 431.2,400.48 432.2,400.56 433.2,400.63 434.2,400.7 435.2,400.76 436.2,400.83 437.2,400.89 438.2,400.94 439.2,401 440.2,401.05 441.2,401.1 442.2,401.15 443.2,401.2 444.2,401.24 445.2,401.28 446.2,401.32 447.2,401.36 448.2,401.4 449.2,401.43 450.2,401.46 451.2,401.49 452.2,401.52 453.2,401.55 454.2,401.57 455.2,401.6 456.2,401.62 457.2,401.64 458.2,401.66 459.2,401.68 460.2,401.7 461.2,401.71 462.2,401.73 463.2,401.74 464.2,401.76 465.2,401.77 466.2,401.78 467.2,401.79 468.2,401.8 469.2,401.81 470.2,401.82 471.2,401.82 472.2,401.83 473.2,401.84 474.2,401.84 475.2,401.85 476.2,401.86 477.2,401.86 478.2,401.86 479.2,401.87" fill="none" stroke="#b030e0" stroke-width="2" stroke-opacity="0.8" stroke-linejoin="round"/>
<polyline points="260.2,391.47 261.2,391.49 262.2,391.51 263.2,391.53 264.2,391.55 265.2,391.57 266.2,391.59 267.2,391.61 268.2,391.62 269.2,391.64 270.2,391.65 271.2,391.67 272.2,391.68 273.2,391.69 274.2,391.7 275.2,391.72 276.2,391.73 277.2,391.73 278.2,391.74 279.2,391.75 280.2,391.75 281.2,391.76 282.2,391.76 283.2,391.76 284.2,391.77 285.2,391.76 286.2,391.76 287.2,391.76 288.2,391.75 289.2,391.75 290.2,391.74 291.2,391.73 292.2,391.71 293.2,391.7 294.2,391.68 295.2,391.66 296.2,391.64 297.2,391.62 298.2,391.59 299.2,391.56 300.2,391.52 301.2,391.48 302.2,391.44 303.2,391.39 304.2,391.34 305.2,391.28 306.2,391.21 307.2,391.14 308.2,391.07 309.2,390.98 310.2,390.89 311.2,390.79 312.2,390.68 313.2,390.56 314.2,390.43 315.2,390.28 316.2,390.13 317.2,389.96 318.2,389.77 319.2,389.57 320.2,389.35 321.2,389.12 322.2,388.86 323.2,388.58 324.2,388.28 325.2,387.96 326.2,387.61 327.2,387.24 328.2,386.83 329.2,386.4 330.2,385.93 331.2,385.43 332.2,384.89 333.2,384.32 334.2,383.7 335.2,383.05 336.2,382.35 337.2,381.6 338.2,380.81 339.2,379.97 340.2,379.07 341.2,378.13 342.2,377.13 343.2,376.07 344.2,374.95 345.2,373.77 346.2,372.53 347.2,371.23 348.2,369.86 349.2,368.43 350.2,366.93 351.2,365.36 352.2,363.73 353.2,362.02 354.2,360.25 355.2,358.41 356.2,356.51 357.2,354.53 358.2,352.49 359.2,350.39 360.2,348.22 361.2,345.99 362.2,343.71 363.2,341.36 364.2,338.96 365.2,336.52 366.2,334.02 367.2,331.48 368.2,328.91 369.2,326.29 370.2,323.66 371.2,320.99 372.2,318.31 373.2,315.62 374.2,312.92 375.2,310.22 376.2,307.53 377.2,304.85 378.2,302.19 379.2,299.57 380.2,296.98 381.2,294.43 382.2,291.94 383.2,289.5 384.2,287.14 385.2,284.85 386.2,282.64 387.2,280.53 388.2,278.52 389.2,276.61 390.2,274.83 391.2,273.16 392.2,271.62 393.2,270.22 394.2,268.97 395.2,267.86 396.2,266.9 397.2,266.1 398.2,265.47 399.2,265 400.2,264.7 401.2,264.56 402.2,264.6 403.2,264.81 404.2,265.19 405.2,265.74 406.2,266.45 407.2,267.33 408.2,268.37 409.2,269.56 410.2,270.91 411.2,272.4 412.2,274.04 413.2,275.8 414.2,277.7 415.2,279.71 416.2,281.83 417.2,284.06 418.2,286.39 419.2,288.8 420.2,291.29 421.2,293.86 422.2,296.49 423.2,299.17 424.2,301.9 425.2,304.67 426.2,307.48 427.2,310.3 428.2,313.14 429.2,316 430.2,318.85 431.2,321.7 432.2,324.54 433.2,327.36 434.2,330.15 435.2,332.92 436.2,335.66 437.2,338.35 438.2,341 439.2,343.61 440.2,346.16 441.2,348.66 442.2,351.1 443.2,353.47 444.2,355.79 445.2,358.04 446.2,360.22 447.2,362.33 448.2,364.37 449.2,366.34 450.2,368.25 451.2,370.07 452.2,371.83 453.2,373.52 454.2,375.13 455.2,376.68 456.2,378.15 457.2,379.56 458.2,380.9 459.2,382.18 460.2,383.39 461.2,384.54 462.2,385.62 463.2,386.65 464.2,387.63 465.2,388.54 466.2,389.41 467.2,390.22 468.2,390.98 469.2,391.7 470.2,392.37 471.2,393 472.2,393.59 473.2,394.14 474.2,394.65 475.2,395.13 476.2,395.58 477.2,395.99 478.2,396.38 479.2,396.73 480.2,397.07 481.2,397.37 482.2,397.66 483.2,397.92 484.2,398.17 485.2,398.39 486.2,398.6 487.2,398.79 488.2,398.97 489.2,399.13 490.2,399.28 491.2,399.42 492.2,399.55 493.2,399.67 494.2,399.78 495.2,399.88 496.2,399.97 497.2,400.06 498.2,400.14 499.2,400.21 500.2,400.28 501.2,400.34 502.2,400.4 503.2,400.45 504.2,400.5 505.2,400.55 506.2,400.59 507.2,400.63 508.2,400.67 509.2,400.7 510.2,400.74 511.2,400.77 512.2,400.8 513.2,400.83 514.2,400.85 515.2,400.88 516.2,400.9 517.2,400.92 518.2,400.94 519.2,400.96 520.2,400.98 521.2,401 522.2,401.02 523.2,401.04 524.2,401.05 525.2,401.07 526.2,401.08 527.2,401.1 528.2,401.11 529.2,401.13 530.2,401.14 531.2,401.15 532.2,401.17 533.2,401.18 534.2,401.19 535.2,401.2 536.2,401.21 537.2,401.22 538.2,401.24 539.2,401.25 540.2,401.26 541.2,401.27 542.2,401.28 543.2,401.29 544.2,401.3 545.2,401.31 546.2,401.31 547.2,401.32 548.2,401.33 549.2,401.34 550.2,401.35 551.2,401.36 552.2,401.37 553.2,401.37 554.2,401.38 555.2,401.39 556.2,401.4 557.2,401.4 558.2,401.41 559.2,401.42 560.2,401.43 561.2,401.43 562.2,401.44 563.2,401.45 564.2,401.45 565.2,401.46 566.2,401.47 567.2,401.47 568.2,401.48 569.2,401.48 570.2,401.49 571.2,401.5 572.2,401.5 573.2,401.51 574.2,401.51 575.2,401.52 576.2,401.52 577.2,401.53 578.2,401.53 579.2,401.54 580.2,401.54 581.2,401.55 582.2,401.55 583.2,401.56 584.2,401.56 585.2,401.57 586.2,401.57 587.2,401.58 588.2,401.58 589.2,401.59 590.2,401.59 591.2,401.59 592.2,401.6 593.2,401.6 594.2,401.61 595.2,401.61 596.2,401.61 597.2,401.62 598.2,401.62 599.2,401.62 600.2,401.63 601.2,401.63 602.2,401.64 603.2,401.64 604.2,401.64 605.2,401.65 606.2,401.65 607.2,401.65 608.2,401.66 609.2,401.66 610.2,401.66 611.2,401.67 612.2,401.67 613.2,401.67 614.2,401.67 615.2,401.68 616.2,401.68 617.2,401.68 618.2,401.69 619.2,401.69 620.2,401.69 621.2,401.69 622.2,401.7 623.2,401.7 624.2,401.7 625.2,401.71 626.2,401.71 627.2,401.71 628.2,401.71 629.2,401.72 629.2,401.72" fill="none" stroke="#7a3cff" stroke-width="2" stroke-opacity="0.8" stroke-linejoin="round"/>
<defs><linearGradient id="pg" x1="72" x2="629" y1="0" y2="0" gradientUnits="userSpaceOnUse"><stop offset="0" stop-color="#9932cc" stop-opacity="0.1"/><stop offset="0.12" stop-color="#9932cc" stop-opacity="0.8"/><stop offset="1" stop-color="#9932cc" stop-opacity="0.85"/></linearGradient></defs>
<line x1="72.2" y1="392.4" x2="629.2" y2="399.8" stroke="url(#pg)" stroke-width="3.2"/>
<polyline points="72.2,390.5 74.2,390.5 76.2,390.5 78.2,390.5 80.2,390.5 82.2,390.5 84.2,390.5 86.2,390.5 88.2,390.5 90.2,390.5 92.2,390.5 94.2,390.5 96.2,390.5 98.2,390.5 100.2,390.5 102.2,390.5 104.2,390.5 106.2,390.5 108.2,390.5 110.2,390.5 112.2,390.5 114.2,390.5 116.2,390.5 118.2,390.5 120.2,390.5 122.2,390.5 124.2,390.5 126.2,390.5 128.2,390.5 130.2,390.5 132.2,390.5 134.2,390.5 136.2,390.5 138.2,390.5 140.2,390.5 142.2,390.5 144.2,390.5 146.2,390.5 148.2,390.5 150.2,390.5 152.2,390.51 154.2,390.51 156.2,390.51 158.2,390.51 160.2,390.51 162.2,390.51 164.2,390.52 166.2,390.52 168.2,390.52 170.2,390.52 172.2,390.53 174.2,390.53 176.2,390.54 178.2,390.55 180.2,390.55 182.2,390.56 184.2,390.57 186.2,390.58 188.2,390.59 190.2,390.61 192.2,390.62 194.2,390.63 196.2,390.65 198.2,390.67 200.2,390.69 202.2,390.71 204.2,390.74 206.2,390.77 208.2,390.79 210.2,390.83 212.2,390.86 214.2,390.89 216.2,390.93 218.2,390.97 220.2,391.01 222.2,391.06 224.2,391.11 226.2,391.15 228.2,391.21 230.2,391.26 232.2,391.31 234.2,391.37 236.2,391.43 238.2,391.49 240.2,391.55 242.2,391.61 244.2,391.67 246.2,391.74 248.2,391.8 250.2,391.86 252.2,391.93 254.2,391.99 256.2,392.05 258.2,392.11 260.2,392.18 262.2,392.24 264.2,392.3 266.2,392.35 268.2,392.41 270.2,392.46 272.2,392.51 274.2,392.56 276.2,392.61 278.2,392.66 280.2,392.7 282.2,392.74 284.2,392.78 286.2,392.82 288.2,392.85 290.2,392.89 292.2,392.92 294.2,392.95 296.2,392.97 298.2,393 300.2,393.02 302.2,393.04 304.2,393.06 306.2,393.07 308.2,393.09 310.2,393.11 312.2,393.12 314.2,393.13 316.2,393.14 318.2,393.16 320.2,393.17 322.2,393.18 324.2,393.19 326.2,393.2 328.2,393.21 330.2,393.23 332.2,393.24 334.2,393.26 336.2,393.28 338.2,393.3 340.2,393.32 342.2,393.35 344.2,393.38 346.2,393.41 348.2,393.45 350.2,393.5 352.2,393.55 354.2,393.6 356.2,393.67 358.2,393.74 360.2,393.82 362.2,393.9 364.2,394 366.2,394.11 368.2,394.22 370.2,394.35 372.2,394.49 374.2,394.63 376.2,394.79 378.2,394.96 380.2,395.14 382.2,395.32 384.2,395.52 386.2,395.73 388.2,395.94 390.2,396.16 392.2,396.39 394.2,396.63 396.2,396.87 398.2,397.11 400.2,397.35 402.2,397.6 404.2,397.85 406.2,398.09 408.2,398.33 410.2,398.57 412.2,398.81 414.2,399.04 416.2,399.26 418.2,399.47 420.2,399.68 422.2,399.88 424.2,400.06 426.2,400.24 428.2,400.41 430.2,400.57 432.2,400.71 434.2,400.85 436.2,400.98 438.2,401.09 440.2,401.2 442.2,401.29 444.2,401.38 446.2,401.46 448.2,401.53 450.2,401.59 452.2,401.65 454.2,401.7 456.2,401.74 458.2,401.78 460.2,401.82 462.2,401.84 464.2,401.87 466.2,401.89 468.2,401.91 470.2,401.93 472.2,401.94 474.2,401.95 476.2,401.96 478.2,401.97 480.2,401.97 482.2,401.98 484.2,401.98 486.2,401.99 488.2,401.99 490.2,401.99 492.2,401.99 494.2,401.99 496.2,402 498.2,402 500.2,402 502.2,402 504.2,402 506.2,402 508.2,402 510.2,402 512.2,402 514.2,402 516.2,402 518.2,402 520.2,402 522.2,402 524.2,402 526.2,402 528.2,402 530.2,402 532.2,402 534.2,402 536.2,402 538.2,402 540.2,402 542.2,402 544.2,402 546.2,402 548.2,402 550.2,402 552.2,402 554.2,402 556.2,402 558.2,402 560.2,402 562.2,402 564.2,402 566.2,402 568.2,402 570.2,402 572.2,402 574.2,402 576.2,402 578.2,402 580.2,402 582.2,402 584.2,402 586.2,402 588.2,402 590.2,402 592.2,402 594.2,402 596.2,402 598.2,402 600.2,402 602.2,402 604.2,402 606.2,402 608.2,402 610.2,402 612.2,402 614.2,402 616.2,402 618.2,402 620.2,402 622.2,402 624.2,402 626.2,402 628.2,402 629.2,402" fill="none" stroke="#990022" stroke-width="1.8"/>
<polyline points="68.5,386.5 72.2,387.2 76.7,385.3 81.1,388.2 86.1,388.2 91.7,385.9 96.7,384.8 101.2,386.5 108.4,382 112.8,385.9 120.6,385.3 125.1,381.7 132.3,379.7 136.8,382 144.6,377.3 147.9,376.5 152.3,379.5 159.6,378.7 164.6,375.6 171.8,376.1 176.3,379.3 184.1,375.4 191.9,378.4 198,378.4 204,376 211.8,370.1 220.4,366.6 228,362.5 235,359 239.4,357.1 246.4,356.3 250.7,351.1 254.1,353.7 259.3,354.5 265.4,359.2 272.3,363.3 280.9,369.6 291.3,376 303.4,378.9 307.7,379.6 312,377 316.3,378.7 320.6,377 325.8,377 332.7,374.4 339.6,370.9 346.5,367.5 351.7,363.2 356.9,357.1 359.7,347.51 362.7,341.63 365.7,334.26 368.7,325.19 371.7,317.32 374.7,309.4 377.7,302.73 380.7,294.01 383.7,287.04 386.7,279.81 389.7,274.42 392.7,269.54 395.7,266.07 398.7,264.5 403,264.01 406,265.63 409,267.77 412,272.17 415,277.26 418,283.81 421,290.42 424,297.35 427,306.9 430,315.6 433.32,324.04 436.8,331.84 440.28,340.21 443.76,347 447.24,355.29 450.72,361.41 454.2,366.85 457.68,371.77 458.8,376 463,380.5 468.2,385.1 473,389 477.6,392.5 483.7,394.5 487,394.5 492.4,396.5 495.7,398.2 504.5,397.8 506.5,397.2 508.5,398.8 520,399 530,398.5 540,399.6 552,399.5 560,400.2 570,399.7 582,400.8 596,400.4 610,401.3 620,400.9 629,401.6" fill="none" stroke="#4848b0" stroke-width="1.1" stroke-opacity="0.9" stroke-linejoin="round"/>
<polyline points="292.2,377.31 293.2,377.85 294.2,378.39 295.2,378.91 296.2,379.42 297.2,379.91 298.2,380.39 299.2,380.86 300.2,381.31 301.2,381.75 302.2,382.17 303.2,382.57 304.2,382.96 305.2,383.33 306.2,383.68 307.2,384.01 308.2,384.32 309.2,384.61 310.2,384.88 311.2,385.12 312.2,385.35 313.2,385.55 314.2,385.73 315.2,385.89 316.2,386.02 317.2,386.13 318.2,386.21 319.2,386.26 320.2,386.28 321.2,386.27 322.2,386.24 323.2,386.17 324.2,386.07 325.2,385.94 326.2,385.77 327.2,385.57 328.2,385.33 329.2,385.05 330.2,384.73 331.2,384.36 332.2,383.96 333.2,383.51 334.2,383.01 335.2,382.46 336.2,381.87 337.2,381.22 338.2,380.52 339.2,379.76 340.2,378.95 341.2,378.08 342.2,377.15 343.2,376.16 344.2,375.1 345.2,373.98 346.2,372.8 347.2,371.55 348.2,370.23 349.2,368.84 350.2,367.38 351.2,365.86 352.2,364.26 353.2,362.59" fill="none" stroke="#c8c080" stroke-width="4.5" stroke-opacity="0.85" stroke-linejoin="round"/>
<polyline points="72.2,390.2 73.2,390.2 74.2,390.19 75.2,390.19 76.2,390.19 77.2,390.19 78.2,390.18 79.2,390.18 80.2,390.18 81.2,390.17 82.2,390.17 83.2,390.17 84.2,390.17 85.2,390.16 86.2,390.16 87.2,390.16 88.2,390.15 89.2,390.15 90.2,390.15 91.2,390.14 92.2,390.14 93.2,390.14 94.2,390.13 95.2,390.13 96.2,390.12 97.2,390.12 98.2,390.12 99.2,390.11 100.2,390.11 101.2,390.1 102.2,390.1 103.2,390.1 104.2,390.09 105.2,390.09 106.2,390.08 107.2,390.08 108.2,390.07 109.2,390.07 110.2,390.06 111.2,390.06 112.2,390.05 113.2,390.05 114.2,390.04 115.2,390.03 116.2,390.03 117.2,390.02 118.2,390.01 119.2,390.01 120.2,390 121.2,389.99 122.2,389.98 123.2,389.97 124.2,389.96 125.2,389.95 126.2,389.94 127.2,389.93 128.2,389.92 129.2,389.91 130.2,389.9 131.2,389.89 132.2,389.87 133.2,389.86 134.2,389.84 135.2,389.83 136.2,389.81 137.2,389.79 138.2,389.77 139.2,389.75 140.2,389.72 141.2,389.7 142.2,389.68 143.2,389.65 144.2,389.62 145.2,389.59 146.2,389.55 147.2,389.52 148.2,389.48 149.2,389.44 150.2,389.4 151.2,389.35 152.2,389.3 153.2,389.25 154.2,389.19 155.2,389.13 156.2,389.07 157.2,389 158.2,388.93 159.2,388.85 160.2,388.77 161.2,388.68 162.2,388.59 163.2,388.49 164.2,388.39 165.2,388.28 166.2,388.17 167.2,388.04 168.2,387.91 169.2,387.78 170.2,387.63 171.2,387.48 172.2,387.32 173.2,387.15 174.2,386.97 175.2,386.78 176.2,386.58 177.2,386.38 178.2,386.16 179.2,385.93 180.2,385.69 181.2,385.44 182.2,385.18 183.2,384.91 184.2,384.63 185.2,384.33 186.2,384.03 187.2,383.71 188.2,383.38 189.2,383.03 190.2,382.68 191.2,382.31 192.2,381.93 193.2,381.54 194.2,381.13 195.2,380.71 196.2,380.28 197.2,379.84 198.2,379.38 199.2,378.92 200.2,378.44 201.2,377.95 202.2,377.45 203.2,376.94 204.2,376.42 205.2,375.89 206.2,375.35 207.2,374.8 208.2,374.25 209.2,373.69 210.2,373.12 211.2,372.54 212.2,371.96 213.2,371.38 214.2,370.79 215.2,370.21 216.2,369.62 217.2,369.03 218.2,368.44 219.2,367.85 220.2,367.26 221.2,366.68 222.2,366.11 223.2,365.54 224.2,364.98 225.2,364.42 226.2,363.88 227.2,363.35 228.2,362.83 229.2,362.32 230.2,361.83 231.2,361.36 232.2,360.9 233.2,360.46 234.2,360.05 235.2,359.65 236.2,359.27 237.2,358.92 238.2,358.59 239.2,358.29 240.2,358.01 241.2,357.76 242.2,357.54 243.2,357.35 244.2,357.19 245.2,357.05 246.2,356.95 247.2,356.88 248.2,356.84 249.2,356.83 250.2,356.85 251.2,356.9 252.2,356.98 253.2,357.1 254.2,357.24 255.2,357.42 256.2,357.62 257.2,357.86 258.2,358.12 259.2,358.41 260.2,358.72 261.2,359.07 262.2,359.43 263.2,359.82 264.2,360.24 265.2,360.67 266.2,361.13 267.2,361.6 268.2,362.09 269.2,362.6 270.2,363.12 271.2,363.66 272.2,364.21 273.2,364.77 274.2,365.35 275.2,365.93 276.2,366.52 277.2,367.11 278.2,367.71 279.2,368.31 280.2,368.92 281.2,369.53 282.2,370.14 283.2,370.75 284.2,371.35 285.2,371.95 286.2,372.55 287.2,373.15 288.2,373.73 289.2,374.32 290.2,374.89 291.2,375.45 292.2,376.01 293.2,376.55 294.2,377.09 295.2,377.61 296.2,378.12 297.2,378.61 298.2,379.09 299.2,379.56 300.2,380.01 301.2,380.45 302.2,380.87 303.2,381.27 304.2,381.66 305.2,382.03 306.2,382.38 307.2,382.71 308.2,383.02 309.2,383.31 310.2,383.58 311.2,383.82 312.2,384.05 313.2,384.25 314.2,384.43 315.2,384.59 316.2,384.72 317.2,384.83 318.2,384.91 319.2,384.96 320.2,384.98 321.2,384.97 322.2,384.94 323.2,384.87 324.2,384.77 325.2,384.64 326.2,384.47 327.2,384.27 328.2,384.03 329.2,383.75 330.2,383.43 331.2,383.06 332.2,382.66 333.2,382.21 334.2,381.71 335.2,381.16 336.2,380.57 337.2,379.92 338.2,379.22 339.2,378.46 340.2,377.65 341.2,376.78 342.2,375.85 343.2,374.86 344.2,373.8 345.2,372.68 346.2,371.5 347.2,370.25 348.2,368.93 349.2,367.54 350.2,366.08 351.2,364.56 352.2,362.96 353.2,361.29 354.2,359.55 355.2,357.75 356.2,355.87 357.2,353.92 358.2,351.91 359.2,349.82 360.2,347.68 361.2,345.47 362.2,343.2 363.2,340.87 364.2,338.49 365.2,336.06 366.2,333.58 367.2,331.05 368.2,328.49 369.2,325.89 370.2,323.26 371.2,320.61 372.2,317.94 373.2,315.25 374.2,312.56 375.2,309.87 376.2,307.19 377.2,304.52 378.2,301.87 379.2,299.25 380.2,296.66 381.2,294.12 382.2,291.64 383.2,289.21 384.2,286.85 385.2,284.56 386.2,282.36 387.2,280.26 388.2,278.25 389.2,276.35 390.2,274.56 391.2,272.9 392.2,271.37 393.2,269.97 394.2,268.72 395.2,267.61 396.2,266.66 397.2,265.87 398.2,265.24 399.2,264.77 400.2,264.47 401.2,264.34 402.2,264.38 403.2,264.59 404.2,264.97 405.2,265.52 406.2,266.24 407.2,267.12 408.2,268.16 409.2,269.36 410.2,270.71 411.2,272.21 412.2,273.84 413.2,275.61 414.2,277.51 415.2,279.52 416.2,281.65 417.2,283.88 418.2,286.21 419.2,288.62 420.2,291.12 421.2,293.68 422.2,296.31 423.2,299 424.2,301.73 425.2,304.5 426.2,307.31 427.2,310.14 428.2,312.98 429.2,315.83 430.2,318.69 431.2,321.54 432.2,324.38 433.2,327.2 434.2,330 435.2,332.77 436.2,335.51 437.2,338.2 438.2,340.86 439.2,343.46 440.2,346.02 441.2,348.51 442.2,350.95 443.2,353.33 444.2,355.65 445.2,357.9 446.2,360.08 447.2,362.2 448.2,364.24 449.2,366.21 450.2,368.12 451.2,369.95 452.2,371.7 453.2,373.39 454.2,375.01 455.2,376.55 456.2,378.03 457.2,379.44 458.2,380.78 459.2,382.06 460.2,383.27 461.2,384.42 462.2,385.51 463.2,386.54 464.2,387.51 465.2,388.43 466.2,389.29 467.2,390.11 468.2,390.87 469.2,391.59 470.2,392.26 471.2,392.89 472.2,393.48 473.2,394.03 474.2,394.55 475.2,395.03 476.2,395.47 477.2,395.89 478.2,396.28 479.2,396.63 480.2,396.97 481.2,397.28 482.2,397.56 483.2,397.83 484.2,398.07 485.2,398.3 486.2,398.51 487.2,398.7 488.2,398.88 489.2,399.04 490.2,399.19 491.2,399.33 492.2,399.46 493.2,399.58 494.2,399.69 495.2,399.79 496.2,399.89 497.2,399.97 498.2,400.05 499.2,400.12 500.2,400.19 501.2,400.26 502.2,400.31 503.2,400.37 504.2,400.42 505.2,400.47 506.2,400.51 507.2,400.55 508.2,400.59 509.2,400.63 510.2,400.66 511.2,400.69 512.2,400.72 513.2,400.75 514.2,400.77 515.2,400.8 516.2,400.82 517.2,400.85 518.2,400.87 519.2,400.89 520.2,400.91 521.2,400.93 522.2,400.95 523.2,400.96 524.2,400.98 525.2,401 526.2,401.01 527.2,401.03 528.2,401.04 529.2,401.06 530.2,401.07 531.2,401.09 532.2,401.1 533.2,401.11 534.2,401.12 535.2,401.14 536.2,401.15 537.2,401.16 538.2,401.17 539.2,401.18 540.2,401.19 541.2,401.2 542.2,401.21 543.2,401.22 544.2,401.23 545.2,401.24 546.2,401.25 547.2,401.26 548.2,401.27 549.2,401.28 550.2,401.29 551.2,401.3 552.2,401.31 553.2,401.32 554.2,401.32 555.2,401.33 556.2,401.34 557.2,401.35 558.2,401.36 559.2,401.36 560.2,401.37 561.2,401.38 562.2,401.38 563.2,401.39 564.2,401.4 565.2,401.41 566.2,401.41 567.2,401.42 568.2,401.42 569.2,401.43 570.2,401.44 571.2,401.44 572.2,401.45 573.2,401.46 574.2,401.46 575.2,401.47 576.2,401.47 577.2,401.48 578.2,401.48 579.2,401.49 580.2,401.49 581.2,401.5 582.2,401.5 583.2,401.51 584.2,401.51 585.2,401.52 586.2,401.52 587.2,401.53 588.2,401.53 589.2,401.54 590.2,401.54 591.2,401.55 592.2,401.55 593.2,401.56 594.2,401.56 595.2,401.56 596.2,401.57 597.2,401.57 598.2,401.58 599.2,401.58 600.2,401.58 601.2,401.59 602.2,401.59 603.2,401.6 604.2,401.6 605.2,401.6 606.2,401.61 607.2,401.61 608.2,401.61 609.2,401.62 610.2,401.62 611.2,401.62 612.2,401.63 613.2,401.63 614.2,401.63 615.2,401.64 616.2,401.64 617.2,401.64 618.2,401.65 619.2,401.65 620.2,401.65 621.2,401.66 622.2,401.66 623.2,401.66 624.2,401.66 625.2,401.67 626.2,401.67 627.2,401.67 628.2,401.68 629.2,401.68 629.2,401.68" fill="none" stroke="#825821" stroke-width="3.8" stroke-opacity="0.72" stroke-linejoin="round"/>
<circle cx="68.8" cy="390.1" r="2.3" fill="#c8c080" fill-opacity="0.85"/>
<circle cx="68.8" cy="211.3" r="2.0" fill="#3c963c" fill-opacity="0.8"/>
<g stroke="#000" fill="none">
<rect x="72.3" y="15.1" width="556.9" height="407.9" stroke-width="4.6"/>
<line x1="72.2" y1="423" x2="72.2" y2="430.6" stroke-width="4.2"/>
<line x1="111.99" y1="423" x2="111.99" y2="426.8" stroke-width="4.2"/>
<line x1="151.77" y1="423" x2="151.77" y2="430.6" stroke-width="4.2"/>
<line x1="191.56" y1="423" x2="191.56" y2="426.8" stroke-width="4.2"/>
<line x1="231.34" y1="423" x2="231.34" y2="430.6" stroke-width="4.2"/>
<line x1="271.13" y1="423" x2="271.13" y2="426.8" stroke-width="4.2"/>
<line x1="310.91" y1="423" x2="310.91" y2="430.6" stroke-width="4.2"/>
<line x1="350.7" y1="423" x2="350.7" y2="426.8" stroke-width="4.2"/>
<line x1="390.49" y1="423" x2="390.49" y2="430.6" stroke-width="4.2"/>
<line x1="430.27" y1="423" x2="430.27" y2="426.8" stroke-width="4.2"/>
<line x1="470.06" y1="423" x2="470.06" y2="430.6" stroke-width="4.2"/>
<line x1="509.84" y1="423" x2="509.84" y2="426.8" stroke-width="4.2"/>
<line x1="549.63" y1="423" x2="549.63" y2="430.6" stroke-width="4.2"/>
<line x1="589.41" y1="423" x2="589.41" y2="426.8" stroke-width="4.2"/>
<line x1="629.2" y1="423" x2="629.2" y2="430.6" stroke-width="4.2"/>
</g>
<g stroke="#000" fill="none">
<rect x="779.7" y="15.1" width="566.3" height="410.6" stroke-width="4.5"/>
<line x1="779.7" y1="425.7" x2="771" y2="425.7" stroke-width="4.2"/>
<line x1="779.7" y1="396.37" x2="775.3" y2="396.37" stroke-width="4.2"/>
<line x1="779.7" y1="367.04" x2="771" y2="367.04" stroke-width="4.2"/>
<line x1="779.7" y1="337.71" x2="775.3" y2="337.71" stroke-width="4.2"/>
<line x1="779.7" y1="308.38" x2="771" y2="308.38" stroke-width="4.2"/>
<line x1="779.7" y1="279.05" x2="775.3" y2="279.05" stroke-width="4.2"/>
<line x1="779.7" y1="249.72" x2="771" y2="249.72" stroke-width="4.2"/>
<line x1="779.7" y1="220.39" x2="775.3" y2="220.39" stroke-width="4.2"/>
<line x1="779.7" y1="191.06" x2="771" y2="191.06" stroke-width="4.2"/>
<line x1="779.7" y1="161.73" x2="775.3" y2="161.73" stroke-width="4.2"/>
<line x1="779.7" y1="132.4" x2="771" y2="132.4" stroke-width="4.2"/>
<line x1="779.7" y1="103.07" x2="775.3" y2="103.07" stroke-width="4.2"/>
<line x1="779.7" y1="73.74" x2="771" y2="73.74" stroke-width="4.2"/>
<line x1="779.7" y1="44.41" x2="775.3" y2="44.41" stroke-width="4.2"/>
<line x1="779.7" y1="15.08" x2="771" y2="15.08" stroke-width="4.2"/>
<line x1="804.1" y1="425.7" x2="804.1" y2="433.6" stroke-width="4.2"/>
<line x1="853.33" y1="425.7" x2="853.33" y2="429.6" stroke-width="4.2"/>
<line x1="902.56" y1="425.7" x2="902.56" y2="433.6" stroke-width="4.2"/>
<line x1="951.79" y1="425.7" x2="951.79" y2="429.6" stroke-width="4.2"/>
<line x1="1001.02" y1="425.7" x2="1001.02" y2="433.6" stroke-width="4.2"/>
<line x1="1050.25" y1="425.7" x2="1050.25" y2="429.6" stroke-width="4.2"/>
<line x1="1099.48" y1="425.7" x2="1099.48" y2="433.6" stroke-width="4.2"/>
<line x1="1148.71" y1="425.7" x2="1148.71" y2="429.6" stroke-width="4.2"/>
<line x1="1197.94" y1="425.7" x2="1197.94" y2="433.6" stroke-width="4.2"/>
<line x1="1247.17" y1="425.7" x2="1247.17" y2="429.6" stroke-width="4.2"/>
<line x1="1296.4" y1="425.7" x2="1296.4" y2="433.6" stroke-width="4.2"/>
</g>
<path d="M811.45 340.03L814.47 334.57M820.41 326.64L824.71 322.27M832.05 315.49L836.7 311.59M844.51 305.35L848.86 302.03M856.52 295.62L874.26 279.38M881.71 272.71L898.79 257.82M907.46 253.53L922.28 250.49M932.1 248.65L946.86 246.15M956.73 244.56L971.46 242.27M981.35 240.77L996.08 238.55M1005.96 237.05L1020.69 234.76M1030.59 233.34L1045.29 231.38M1055.2 229.98L1069.92 227.81M1079.81 226.33L1094.54 224.12M1104.4 222.49L1119.18 219.81M1129.02 218.04L1143.79 215.4M1153.62 213.6L1168.41 210.81M1178.16 208.61L1193.11 204.66M1202.66 201.74L1217.83 196.46M1226.92 192.38L1242.8 183.52M1251.33 178.31L1252.86 177.29M1273.6 148.27L1274.59 145.74M1277.75 136.26L1279.65 129.42M1282.15 119.73L1286.38 101.95M1287.84 92.1L1290.19 52.69" stroke="#000" stroke-width="2.0" fill="none"/>
<g fill="#000" stroke="none" stroke-width="0"><circle cx="803.51" cy="384.05" r="5.2"/><circle cx="804" cy="377.01" r="5.2"/><circle cx="804.49" cy="369.97" r="5.2"/><circle cx="804.99" cy="363.52" r="5.2"/><circle cx="806.02" cy="358.48" r="5.2"/><circle cx="807" cy="354.13" r="5.2"/><circle cx="807.99" cy="348.86" r="5.2"/><circle cx="809.02" cy="344.4" r="5.2"/><circle cx="816.9" cy="330.2" r="5.2"/><circle cx="828.22" cy="318.7" r="5.2"/><circle cx="840.53" cy="308.38" r="5.2"/><circle cx="852.84" cy="298.99" r="5.2"/><circle cx="877.95" cy="276" r="5.2"/><circle cx="902.56" cy="254.53" r="5.2"/><circle cx="927.18" cy="249.49" r="5.2"/><circle cx="951.79" cy="245.32" r="5.2"/><circle cx="976.4" cy="241.51" r="5.2"/><circle cx="1001.02" cy="237.81" r="5.2"/><circle cx="1025.63" cy="234" r="5.2"/><circle cx="1050.25" cy="230.71" r="5.2"/><circle cx="1074.87" cy="227.08" r="5.2"/><circle cx="1099.48" cy="223.38" r="5.2"/><circle cx="1124.1" cy="218.92" r="5.2"/><circle cx="1148.71" cy="214.52" r="5.2"/><circle cx="1173.33" cy="209.89" r="5.2"/><circle cx="1197.94" cy="203.38" r="5.2"/><circle cx="1222.56" cy="194.81" r="5.2"/><circle cx="1247.17" cy="181.09" r="5.2"/><circle cx="1257.02" cy="174.52" r="5.2"/><circle cx="1262.43" cy="167.6" r="5.2"/><circle cx="1267.21" cy="162.08" r="5.2"/><circle cx="1271.79" cy="152.93" r="5.2"/><circle cx="1276.41" cy="141.08" r="5.2"/><circle cx="1280.99" cy="124.6" r="5.2"/><circle cx="1287.54" cy="97.09" r="5.2"/><circle cx="1290.49" cy="47.69" r="5.2"/></g>
<path d="M1289.15 54.56L1288.15 59.66M1285.66 73.43L1282.77 91M1279.96 104.71L1278.87 109.18M1275.2 122.68L1273.79 127.39M1241.09 172.94L1228.64 180.03M1215.96 185.84L1204.54 189.89M1191.15 193.93L1180.12 196.69M1166.45 199.69L1155.59 201.73M1141.83 204.31L1130.98 206.32M1117.2 208.79L1106.38 210.64M1092.55 212.8L1081.8 214.31M1067.92 216.16L1057.19 217.52M1043.43 219.97L1032.46 222.51M1018.72 225.19L1007.93 226.91M994.09 229.01L983.33 230.54M969.49 232.62L958.7 234.32M944.87 236.46L934.09 238.11M920.3 240.47L909.44 242.54M897.2 248.35L883.31 260M873.1 269.56L858.17 285.14M847.44 293.98L846.42 294.63M835.03 302.73L833.73 303.76" stroke="#000" stroke-width="2.0" fill="none"/>
<g fill="#fff" stroke="#000" stroke-width="1.3"><circle cx="1286.8" cy="66.52" r="4.7"/><circle cx="1281.63" cy="97.91" r="4.7"/><circle cx="1277.2" cy="115.98" r="4.7"/><circle cx="1271.79" cy="134.1" r="4.7"/><circle cx="1267.21" cy="144.48" r="4.7"/><circle cx="1262.28" cy="153.69" r="4.7"/><circle cx="1257.02" cy="159.79" r="4.7"/><circle cx="1247.17" cy="169.47" r="4.7"/><circle cx="1222.56" cy="183.49" r="4.7"/><circle cx="1197.94" cy="192.23" r="4.7"/><circle cx="1173.33" cy="198.39" r="4.7"/><circle cx="1148.71" cy="203.03" r="4.7"/><circle cx="1124.1" cy="207.6" r="4.7"/><circle cx="1099.48" cy="211.83" r="4.7"/><circle cx="1074.87" cy="215.29" r="4.7"/><circle cx="1050.25" cy="218.4" r="4.7"/><circle cx="1025.63" cy="224.09" r="4.7"/><circle cx="1001.02" cy="228.02" r="4.7"/><circle cx="976.4" cy="231.54" r="4.7"/><circle cx="951.79" cy="235.41" r="4.7"/><circle cx="927.18" cy="239.16" r="4.7"/><circle cx="902.56" cy="243.85" r="4.7"/><circle cx="877.95" cy="264.5" r="4.7"/><circle cx="853.33" cy="290.2" r="4.7"/><circle cx="840.53" cy="298.41" r="4.7"/><circle cx="828.22" cy="308.09" r="4.7"/></g>
<path d="M859.8 338.25L871.48 332.54M884.66 326.79L895.84 322.47M909.65 318.64L920.08 316.83M934.31 314.61L944.66 313.18M958.95 311.43L969.25 310.32M983.53 308.53L993.89 307.05M1008.16 305.13L1018.49 303.83M1032.79 302.16L1043.09 301.05M1057.38 299.28L1067.74 297.83M1082 295.84L1092.35 294.41M1106.6 292.32L1116.98 290.71M1131.2 288.42L1141.61 286.69M1155.82 284.38L1166.21 282.75M1180.34 279.99L1190.93 277.52M1204.86 273.89L1215.64 270.78M1229.14 265.88L1240.58 260.84M1283.67 208.31L1285.25 202.14M1287.74 188L1289.8 166.55" stroke="#ff0000" stroke-width="2.0" fill="none"/>
<g fill="#ff0000" stroke="none" stroke-width="0"><circle cx="804.1" cy="418.07" r="5.4"/><circle cx="804.1" cy="413.97" r="5.4"/><circle cx="804.1" cy="409.86" r="5.4"/><circle cx="804.1" cy="405.76" r="5.4"/><circle cx="804.1" cy="401.65" r="5.4"/><circle cx="804.1" cy="397.54" r="5.4"/><circle cx="804.2" cy="393.44" r="5.4"/><circle cx="804.4" cy="388.16" r="5.4"/><circle cx="804.99" cy="379.36" r="5.4"/><circle cx="807" cy="372.91" r="5.4"/><circle cx="809.02" cy="366.45" r="5.4"/><circle cx="817.39" cy="359.12" r="5.4"/><circle cx="828.22" cy="352.61" r="5.4"/><circle cx="840.53" cy="347.1" r="5.4"/><circle cx="853.33" cy="341.41" r="5.4"/><circle cx="877.95" cy="329.38" r="5.4"/><circle cx="902.56" cy="319.88" r="5.4"/><circle cx="927.18" cy="315.6" r="5.4"/><circle cx="951.79" cy="312.19" r="5.4"/><circle cx="976.4" cy="309.55" r="5.4"/><circle cx="1001.02" cy="306.03" r="5.4"/><circle cx="1025.63" cy="302.92" r="5.4"/><circle cx="1050.25" cy="300.28" r="5.4"/><circle cx="1074.87" cy="296.82" r="5.4"/><circle cx="1099.48" cy="293.42" r="5.4"/><circle cx="1124.1" cy="289.61" r="5.4"/><circle cx="1148.71" cy="285.5" r="5.4"/><circle cx="1173.33" cy="281.63" r="5.4"/><circle cx="1197.94" cy="275.88" r="5.4"/><circle cx="1222.56" cy="268.78" r="5.4"/><circle cx="1247.17" cy="257.93" r="5.4"/><circle cx="1257.02" cy="251.48" r="5.4"/><circle cx="1262.43" cy="246.38" r="5.4"/><circle cx="1266.86" cy="241.8" r="5.4"/><circle cx="1271.29" cy="235.99" r="5.4"/><circle cx="1276.71" cy="227.49" r="5.4"/><circle cx="1281.88" cy="215.29" r="5.4"/><circle cx="1287.05" cy="195.17" r="5.4"/><circle cx="1290.49" cy="159.38" r="5.4"/></g>
<path d="M1289.08 166.44L1288.46 169.57M1285.05 183.55L1283.87 187.66M1279.42 201.35L1278.67 203.41M1240.55 247.44L1229.18 252.29M1215.58 256.91L1204.91 259.66M1190.89 262.93L1180.37 265.14M1166.21 267.73L1155.82 269.37M1141.57 271.44L1131.23 272.82M1116.94 274.54L1106.64 275.64M1092.32 277.18L1082.02 278.28M1067.71 279.85L1057.41 281.01M1043.27 283.55L1032.62 286.22M1018.54 289.2L1008.11 291.01M993.86 293.05L983.56 294.2M969.26 295.91L958.93 297.21M944.65 299.02L934.32 300.32M920.04 302.21L909.69 303.64M895.93 307.42L884.58 312.21M871.49 318.19L859.79 323.97" stroke="#ff0000" stroke-width="2.0" fill="none"/>
<g fill="#fff" stroke="#ff0000" stroke-width="1.3"><circle cx="1287.05" cy="176.63" r="4.7"/><circle cx="1281.88" cy="194.58" r="4.7"/><circle cx="1276.22" cy="210.18" r="4.7"/><circle cx="1272.28" cy="219.92" r="4.7"/><circle cx="1266.86" cy="227.31" r="4.7"/><circle cx="1261.45" cy="232.59" r="4.7"/><circle cx="1256.52" cy="237.28" r="4.7"/><circle cx="1247.17" cy="244.62" r="4.7"/><circle cx="1222.56" cy="255.12" r="4.7"/><circle cx="1197.94" cy="261.45" r="4.7"/><circle cx="1173.33" cy="266.61" r="4.7"/><circle cx="1148.71" cy="270.49" r="4.7"/><circle cx="1124.1" cy="273.77" r="4.7"/><circle cx="1099.48" cy="276.41" r="4.7"/><circle cx="1074.87" cy="279.05" r="4.7"/><circle cx="1050.25" cy="281.81" r="4.7"/><circle cx="1025.63" cy="287.97" r="4.7"/><circle cx="1001.02" cy="292.25" r="4.7"/><circle cx="976.4" cy="295.01" r="4.7"/><circle cx="951.79" cy="298.11" r="4.7"/><circle cx="927.18" cy="301.22" r="4.7"/><circle cx="902.56" cy="304.63" r="4.7"/><circle cx="877.95" cy="315.01" r="4.7"/><circle cx="853.33" cy="327.15" r="4.7"/><circle cx="840.53" cy="332.49" r="4.7"/><circle cx="828.22" cy="338.41" r="4.7"/></g>
<line x1="805" y1="52.1" x2="868.3" y2="52.1" stroke="#000" stroke-width="1.5"/>
<circle cx="836.6" cy="52.1" r="5.3" fill="#000"/>
<line x1="805" y1="92.3" x2="829.5" y2="92.3" stroke="#ff0000" stroke-width="1.5"/>
<line x1="843.5" y1="92.3" x2="868.3" y2="92.3" stroke="#ff0000" stroke-width="1.5"/>
<circle cx="836.6" cy="92.3" r="5.8" fill="#ff0000"/>
<g font-family="Liberation Sans, sans-serif" font-weight="bold" fill="#000"><text x="-1.5" y="34.6" font-size="47" text-anchor="start" >(a)</text><text x="645.5" y="34.8" font-size="47" text-anchor="start" >(b)</text><text x="91.2" y="70.3" font-size="26.4" text-anchor="start" >Im-COF-1</text><text x="88.6" y="264.1" font-size="26.4" text-anchor="start" >Azo-COF-1</text><text x="437.4" y="63.7" font-size="27" text-anchor="start" >398.6 (N=C)</text><text x="403.9" y="261" font-size="27" text-anchor="start" >399.7 (N=N)</text><text x="347.8" y="181" font-size="27" text-anchor="start" >N-H</text><text x="238.6" y="351.1" font-size="27" text-anchor="start" >N=O</text><text x="72.2" y="461" font-size="32.3" text-anchor="middle" >408</text><text x="151.77" y="461" font-size="32.3" text-anchor="middle" >406</text><text x="231.34" y="461" font-size="32.3" text-anchor="middle" >404</text><text x="310.91" y="461" font-size="32.3" text-anchor="middle" >402</text><text x="390.49" y="461" font-size="32.3" text-anchor="middle" >400</text><text x="470.06" y="461" font-size="32.3" text-anchor="middle" >398</text><text x="549.63" y="461" font-size="32.3" text-anchor="middle" >396</text><text x="629.2" y="461" font-size="32.3" text-anchor="middle" >394</text><text x="351" y="508.9" font-size="35.8" text-anchor="middle" >Binding energy (eV)</text><text transform="translate(27,242) rotate(-90)" font-size="35.4" text-anchor="middle">Intensity (a.u.)</text><text x="764.5" y="434.2" font-size="32.3" text-anchor="end" >0</text><text x="764.5" y="375.54" font-size="32.3" text-anchor="end" >100</text><text x="764.5" y="316.88" font-size="32.3" text-anchor="end" >200</text><text x="764.5" y="258.22" font-size="32.3" text-anchor="end" >300</text><text x="764.5" y="199.56" font-size="32.3" text-anchor="end" >400</text><text x="764.5" y="140.9" font-size="32.3" text-anchor="end" >500</text><text x="764.5" y="82.24" font-size="32.3" text-anchor="end" >600</text><text x="764.5" y="23.58" font-size="32.3" text-anchor="end" >700</text><text x="804.1" y="464.9" font-size="32.3" text-anchor="middle" >0.0</text><text x="902.56" y="464.9" font-size="32.3" text-anchor="middle" >0.2</text><text x="1001.02" y="464.9" font-size="32.3" text-anchor="middle" >0.4</text><text x="1099.48" y="464.9" font-size="32.3" text-anchor="middle" >0.6</text><text x="1197.94" y="464.9" font-size="32.3" text-anchor="middle" >0.8</text><text x="1296.4" y="464.9" font-size="32.3" text-anchor="middle" >1.0</text><text x="868.3" y="506.7" font-size="34.5">Relative Pressure (P/P<tspan font-size="22" dx="0.3" dy="14.5">0</tspan><tspan dx="0.4" dy="-14.5">)</tspan></text><text transform="translate(690,243) rotate(-90)" font-size="34.1" text-anchor="middle">Volume @ STP (cc/g)</text><text x="875.8" y="62.4" font-size="26.9" text-anchor="start" >Im-COF-1</text><text x="875.9" y="101.9" font-size="26.9" text-anchor="start" >Azo-COF-1</text></g>
</svg></body></html>
